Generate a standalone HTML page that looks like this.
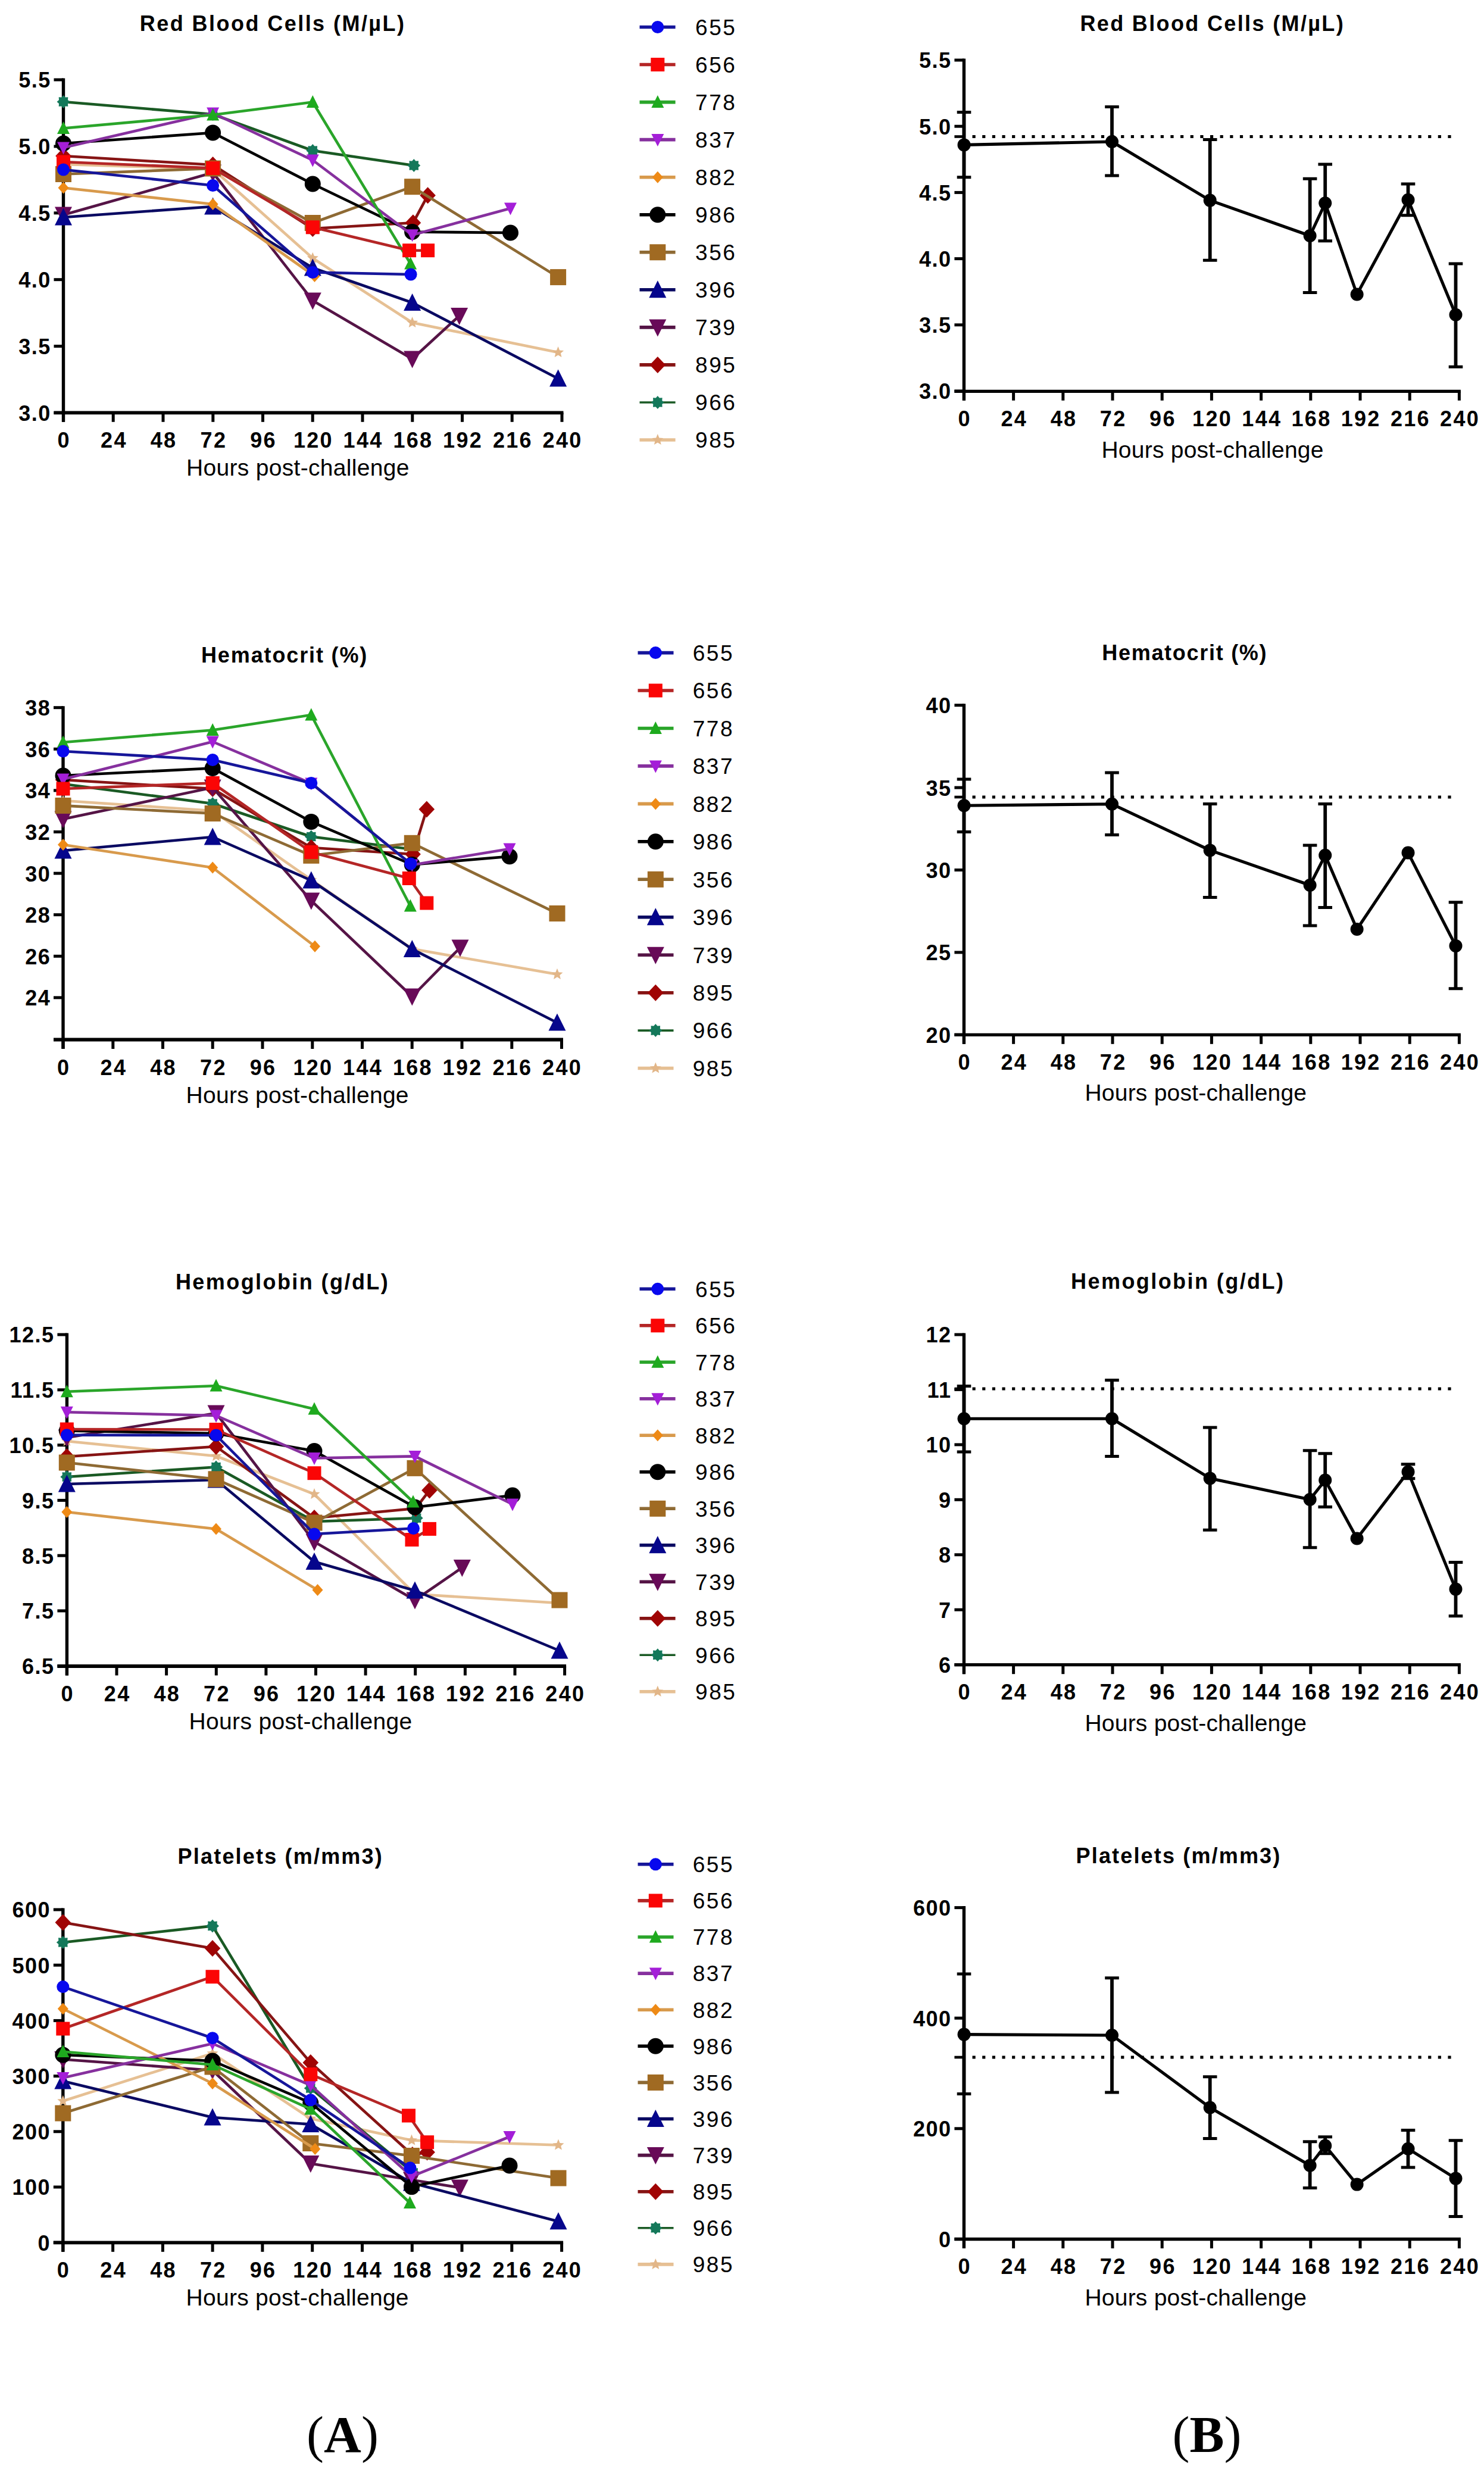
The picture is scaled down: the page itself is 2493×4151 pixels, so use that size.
<!DOCTYPE html>
<html lang="en"><head><meta charset="utf-8"><title>Hematology after challenge</title>
<style>html,body{margin:0;padding:0;background:#fff}svg{display:block}text{fill:#000}</style></head><body>
<svg width="2493" height="4151" viewBox="0 0 2493 4151">
<rect width="2493" height="4151" fill="#fff"/>
<g>
<text x="234.8" y="52" font-family='"Liberation Sans", sans-serif' font-size="36" font-weight="bold" text-anchor="start" letter-spacing="2.45">Red Blood Cells (M/µL)</text>
<line x1="106.5" y1="131.5" x2="106.5" y2="708.8" stroke="#000" stroke-width="5.4"/>
<line x1="90.5" y1="693.3" x2="946.5" y2="693.3" stroke="#000" stroke-width="5.800000000000001"/>
<line x1="106.5" y1="693.3" x2="106.5" y2="708.8" stroke="#000" stroke-width="5.0"/>
<text x="107.7" y="752.3" font-family='"Liberation Sans", sans-serif' font-size="36" font-weight="bold" text-anchor="middle" letter-spacing="2.3">0</text>
<line x1="190.2" y1="693.3" x2="190.2" y2="708.8" stroke="#000" stroke-width="5.0"/>
<text x="191.4" y="752.3" font-family='"Liberation Sans", sans-serif' font-size="36" font-weight="bold" text-anchor="middle" letter-spacing="2.3">24</text>
<line x1="274" y1="693.3" x2="274" y2="708.8" stroke="#000" stroke-width="5.0"/>
<text x="275.1" y="752.3" font-family='"Liberation Sans", sans-serif' font-size="36" font-weight="bold" text-anchor="middle" letter-spacing="2.3">48</text>
<line x1="357.8" y1="693.3" x2="357.8" y2="708.8" stroke="#000" stroke-width="5.0"/>
<text x="358.9" y="752.3" font-family='"Liberation Sans", sans-serif' font-size="36" font-weight="bold" text-anchor="middle" letter-spacing="2.3">72</text>
<line x1="441.5" y1="693.3" x2="441.5" y2="708.8" stroke="#000" stroke-width="5.0"/>
<text x="442.6" y="752.3" font-family='"Liberation Sans", sans-serif' font-size="36" font-weight="bold" text-anchor="middle" letter-spacing="2.3">96</text>
<line x1="525.2" y1="693.3" x2="525.2" y2="708.8" stroke="#000" stroke-width="5.0"/>
<text x="526.4" y="752.3" font-family='"Liberation Sans", sans-serif' font-size="36" font-weight="bold" text-anchor="middle" letter-spacing="2.3">120</text>
<line x1="609" y1="693.3" x2="609" y2="708.8" stroke="#000" stroke-width="5.0"/>
<text x="610.1" y="752.3" font-family='"Liberation Sans", sans-serif' font-size="36" font-weight="bold" text-anchor="middle" letter-spacing="2.3">144</text>
<line x1="692.8" y1="693.3" x2="692.8" y2="708.8" stroke="#000" stroke-width="5.0"/>
<text x="693.9" y="752.3" font-family='"Liberation Sans", sans-serif' font-size="36" font-weight="bold" text-anchor="middle" letter-spacing="2.3">168</text>
<line x1="776.5" y1="693.3" x2="776.5" y2="708.8" stroke="#000" stroke-width="5.0"/>
<text x="777.6" y="752.3" font-family='"Liberation Sans", sans-serif' font-size="36" font-weight="bold" text-anchor="middle" letter-spacing="2.3">192</text>
<line x1="860.2" y1="693.3" x2="860.2" y2="708.8" stroke="#000" stroke-width="5.0"/>
<text x="861.4" y="752.3" font-family='"Liberation Sans", sans-serif' font-size="36" font-weight="bold" text-anchor="middle" letter-spacing="2.3">216</text>
<line x1="944" y1="693.3" x2="944" y2="708.8" stroke="#000" stroke-width="5.0"/>
<text x="945.1" y="752.3" font-family='"Liberation Sans", sans-serif' font-size="36" font-weight="bold" text-anchor="middle" letter-spacing="2.3">240</text>
<line x1="90.5" y1="134" x2="106.5" y2="134" stroke="#000" stroke-width="5.0"/>
<text x="85.7" y="147.4" font-family='"Liberation Sans", sans-serif' font-size="36" font-weight="bold" text-anchor="end" letter-spacing="1.5">5.5</text>
<line x1="90.5" y1="245.9" x2="106.5" y2="245.9" stroke="#000" stroke-width="5.0"/>
<text x="85.7" y="259.3" font-family='"Liberation Sans", sans-serif' font-size="36" font-weight="bold" text-anchor="end" letter-spacing="1.5">5.0</text>
<line x1="90.5" y1="357.8" x2="106.5" y2="357.8" stroke="#000" stroke-width="5.0"/>
<text x="85.7" y="371.2" font-family='"Liberation Sans", sans-serif' font-size="36" font-weight="bold" text-anchor="end" letter-spacing="1.5">4.5</text>
<line x1="90.5" y1="469.7" x2="106.5" y2="469.7" stroke="#000" stroke-width="5.0"/>
<text x="85.7" y="483.1" font-family='"Liberation Sans", sans-serif' font-size="36" font-weight="bold" text-anchor="end" letter-spacing="1.5">4.0</text>
<line x1="90.5" y1="581.6" x2="106.5" y2="581.6" stroke="#000" stroke-width="5.0"/>
<text x="85.7" y="595" font-family='"Liberation Sans", sans-serif' font-size="36" font-weight="bold" text-anchor="end" letter-spacing="1.5">3.5</text>
<line x1="90.5" y1="693.5" x2="106.5" y2="693.5" stroke="#000" stroke-width="5.0"/>
<text x="85.7" y="706.9" font-family='"Liberation Sans", sans-serif' font-size="36" font-weight="bold" text-anchor="end" letter-spacing="1.5">3.0</text>
<polyline fill="none" stroke="#e6c094" stroke-width="4.6" stroke-linejoin="round" points="106.5,276 357.6,284 525.3,433.7 692.6,542 937.6,592"/>
<polygon points="106.5,266 109.1,272.4 116,272.9 110.8,277.4 112.4,284.1 106.5,280.5 100.6,284.1 102.2,277.4 97,272.9 103.9,272.4" fill="#e2b688"/>
<polygon points="357.6,274 360.2,280.4 367.1,280.9 361.9,285.4 363.5,292.1 357.6,288.5 351.7,292.1 353.3,285.4 348.1,280.9 355,280.4" fill="#e2b688"/>
<polygon points="525.3,423.7 527.9,430.1 534.8,430.6 529.6,435.1 531.2,441.8 525.3,438.2 519.4,441.8 521,435.1 515.8,430.6 522.7,430.1" fill="#e2b688"/>
<polygon points="692.6,532 695.2,538.4 702.1,538.9 696.9,543.4 698.5,550.1 692.6,546.5 686.7,550.1 688.3,543.4 683.1,538.9 690,538.4" fill="#e2b688"/>
<polygon points="937.6,582 940.2,588.4 947.1,588.9 941.9,593.4 943.5,600.1 937.6,596.5 931.7,600.1 933.3,593.4 928.1,588.9 935,588.4" fill="#e2b688"/>
<polyline fill="none" stroke="#1a5a24" stroke-width="4.6" stroke-linejoin="round" points="106.5,171 357.6,192 525.3,253 695.3,278"/>
<polygon points="106.5,160 109.6,163.5 114.3,163.2 114,167.9 117.5,171 114,174.1 114.3,178.8 109.6,178.5 106.5,182 103.4,178.5 98.7,178.8 99,174.1 95.5,171 99,167.9 98.7,163.2 103.4,163.5" fill="#14785a"/>
<polygon points="357.6,181 360.7,184.5 365.4,184.2 365.1,188.9 368.6,192 365.1,195.1 365.4,199.8 360.7,199.5 357.6,203 354.5,199.5 349.8,199.8 350.1,195.1 346.6,192 350.1,188.9 349.8,184.2 354.5,184.5" fill="#14785a"/>
<polygon points="525.3,242 528.4,245.5 533.1,245.2 532.8,249.9 536.3,253 532.8,256.1 533.1,260.8 528.4,260.5 525.3,264 522.2,260.5 517.5,260.8 517.8,256.1 514.3,253 517.8,249.9 517.5,245.2 522.2,245.5" fill="#14785a"/>
<polygon points="695.3,267 698.4,270.5 703.1,270.2 702.8,274.9 706.3,278 702.8,281.1 703.1,285.8 698.4,285.5 695.3,289 692.2,285.5 687.5,285.8 687.8,281.1 684.3,278 687.8,274.9 687.5,270.2 692.2,270.5" fill="#14785a"/>
<polyline fill="none" stroke="#861414" stroke-width="4.6" stroke-linejoin="round" points="106.5,262 357.6,277 525.3,384 693.9,374.3 718.6,328.3"/>
<polygon points="106.5,248 119.8,262 106.5,276 93.2,262" fill="#a00404"/>
<polygon points="357.6,263 370.9,277 357.6,291 344.3,277" fill="#a00404"/>
<polygon points="525.3,370 538.6,384 525.3,398 512,384" fill="#a00404"/>
<polygon points="693.9,360.3 707.2,374.3 693.9,388.3 680.6,374.3" fill="#a00404"/>
<polygon points="718.6,314.3 731.9,328.3 718.6,342.3 705.3,328.3" fill="#a00404"/>
<polyline fill="none" stroke="#551446" stroke-width="4.6" stroke-linejoin="round" points="106.5,361 357.6,290 525.3,505 692.6,603 771.6,530.5"/>
<polygon points="106.5,376.5 121,347.5 92,347.5" fill="#680a58"/>
<polygon points="357.6,305.5 372.1,276.5 343.1,276.5" fill="#680a58"/>
<polygon points="525.3,520.5 539.8,491.5 510.8,491.5" fill="#680a58"/>
<polygon points="692.6,618.5 707.1,589.5 678.1,589.5" fill="#680a58"/>
<polygon points="771.6,546 786.1,517 757.1,517" fill="#680a58"/>
<polyline fill="none" stroke="#0a0a62" stroke-width="4.6" stroke-linejoin="round" points="106.5,365 357.6,347 525.3,450 692.6,508.5 937.6,636"/>
<polygon points="106.5,349.5 121,378.5 92,378.5" fill="#06068c"/>
<polygon points="357.6,331.5 372.1,360.5 343.1,360.5" fill="#06068c"/>
<polygon points="525.3,434.5 539.8,463.5 510.8,463.5" fill="#06068c"/>
<polygon points="692.6,493 707.1,522 678.1,522" fill="#06068c"/>
<polygon points="937.6,620.5 952.1,649.5 923.1,649.5" fill="#06068c"/>
<polyline fill="none" stroke="#8e6a34" stroke-width="4.6" stroke-linejoin="round" points="106.5,292.5 357.6,283 525.3,374.5 692.6,313.7 937.6,465.6"/>
<rect x="93" y="279" width="27" height="27" fill="#a06a22"/>
<rect x="344.1" y="269.5" width="27" height="27" fill="#a06a22"/>
<rect x="511.8" y="361" width="27" height="27" fill="#a06a22"/>
<rect x="679.1" y="300.2" width="27" height="27" fill="#a06a22"/>
<rect x="924.1" y="452.1" width="27" height="27" fill="#a06a22"/>
<polyline fill="none" stroke="#000000" stroke-width="4.6" stroke-linejoin="round" points="106.5,241 357.6,223 525.3,309 692.6,389.5 857.5,391"/>
<circle cx="106.5" cy="241" r="13.5" fill="#000000"/>
<circle cx="357.6" cy="223" r="13.5" fill="#000000"/>
<circle cx="525.3" cy="309" r="13.5" fill="#000000"/>
<circle cx="692.6" cy="389.5" r="13.5" fill="#000000"/>
<circle cx="857.5" cy="391" r="13.5" fill="#000000"/>
<polyline fill="none" stroke="#d89a4c" stroke-width="4.6" stroke-linejoin="round" points="106.5,315.5 357.6,343 528.5,464"/>
<polygon points="106.5,305.5 115.5,315.5 106.5,325.5 97.5,315.5" fill="#ee8a16"/>
<polygon points="357.6,333 366.6,343 357.6,353 348.6,343" fill="#ee8a16"/>
<polygon points="528.5,454 537.5,464 528.5,474 519.5,464" fill="#ee8a16"/>
<polyline fill="none" stroke="#86309e" stroke-width="4.6" stroke-linejoin="round" points="106.5,248 357.6,190 525.3,269 692.6,394.8 857.5,350"/>
<polygon points="106.5,259.5 117,238.5 96,238.5" fill="#a41ed8"/>
<polygon points="357.6,201.5 368.1,180.5 347.1,180.5" fill="#a41ed8"/>
<polygon points="525.3,280.5 535.8,259.5 514.8,259.5" fill="#a41ed8"/>
<polygon points="692.6,406.3 703.1,385.3 682.1,385.3" fill="#a41ed8"/>
<polygon points="857.5,361.5 868,340.5 847,340.5" fill="#a41ed8"/>
<polyline fill="none" stroke="#2aa52a" stroke-width="4.6" stroke-linejoin="round" points="106.5,215.5 357.6,193 525.3,171.5 689.6,443"/>
<polygon points="106.5,204 117,225 96,225" fill="#1eaa1e"/>
<polygon points="357.6,181.5 368.1,202.5 347.1,202.5" fill="#1eaa1e"/>
<polygon points="525.3,160 535.8,181 514.8,181" fill="#1eaa1e"/>
<polygon points="689.6,431.5 700.1,452.5 679.1,452.5" fill="#1eaa1e"/>
<polyline fill="none" stroke="#b42626" stroke-width="4.6" stroke-linejoin="round" points="106.5,272 357.6,282.5 525.3,381.8 687.6,420.7 718.6,420.7"/>
<rect x="95" y="260.5" width="23" height="23" fill="#fb0505"/>
<rect x="346.1" y="271" width="23" height="23" fill="#fb0505"/>
<rect x="513.8" y="370.3" width="23" height="23" fill="#fb0505"/>
<rect x="676.1" y="409.2" width="23" height="23" fill="#fb0505"/>
<rect x="707.1" y="409.2" width="23" height="23" fill="#fb0505"/>
<polyline fill="none" stroke="#16169a" stroke-width="4.6" stroke-linejoin="round" points="106.5,285 357.6,311.5 525.3,457.5 690.1,461"/>
<circle cx="106.5" cy="285" r="10.5" fill="#0808ee"/>
<circle cx="357.6" cy="311.5" r="10.5" fill="#0808ee"/>
<circle cx="525.3" cy="457.5" r="10.5" fill="#0808ee"/>
<circle cx="690.1" cy="461" r="10.5" fill="#0808ee"/>
<text x="313" y="799" font-family='"Liberation Sans", sans-serif' font-size="39" font-weight="normal" text-anchor="start" letter-spacing="0.31">Hours post-challenge</text>
<line x1="1074.5" y1="45.5" x2="1134.6" y2="45.5" stroke="#16169a" stroke-width="5.6"/>
<circle cx="1104.8" cy="45.5" r="10.5" fill="#0808ee"/>
<text x="1168" y="58.8" font-family='"Liberation Sans", sans-serif' font-size="37" font-weight="normal" text-anchor="start" letter-spacing="2.6" fill="#111">655</text>
<line x1="1074.5" y1="108.5" x2="1134.6" y2="108.5" stroke="#b42626" stroke-width="5.6"/>
<rect x="1093.3" y="97" width="23" height="23" fill="#fb0505"/>
<text x="1168" y="121.8" font-family='"Liberation Sans", sans-serif' font-size="37" font-weight="normal" text-anchor="start" letter-spacing="2.6" fill="#111">656</text>
<line x1="1074.5" y1="171.6" x2="1134.6" y2="171.6" stroke="#2aa52a" stroke-width="5.6"/>
<polygon points="1104.8,160.1 1115.3,181.1 1094.3,181.1" fill="#1eaa1e"/>
<text x="1168" y="184.9" font-family='"Liberation Sans", sans-serif' font-size="37" font-weight="normal" text-anchor="start" letter-spacing="2.6" fill="#111">778</text>
<line x1="1074.5" y1="234.6" x2="1134.6" y2="234.6" stroke="#86309e" stroke-width="5.6"/>
<polygon points="1104.8,246.1 1115.3,225.1 1094.3,225.1" fill="#a41ed8"/>
<text x="1168" y="247.9" font-family='"Liberation Sans", sans-serif' font-size="37" font-weight="normal" text-anchor="start" letter-spacing="2.6" fill="#111">837</text>
<line x1="1074.5" y1="297.7" x2="1134.6" y2="297.7" stroke="#d89a4c" stroke-width="5.6"/>
<polygon points="1104.8,287.7 1113.8,297.7 1104.8,307.7 1095.8,297.7" fill="#ee8a16"/>
<text x="1168" y="311" font-family='"Liberation Sans", sans-serif' font-size="37" font-weight="normal" text-anchor="start" letter-spacing="2.6" fill="#111">882</text>
<line x1="1074.5" y1="360.8" x2="1134.6" y2="360.8" stroke="#000000" stroke-width="5.6"/>
<circle cx="1104.8" cy="360.8" r="13.5" fill="#000000"/>
<text x="1168" y="374.1" font-family='"Liberation Sans", sans-serif' font-size="37" font-weight="normal" text-anchor="start" letter-spacing="2.6" fill="#111">986</text>
<line x1="1074.5" y1="423.8" x2="1134.6" y2="423.8" stroke="#8e6a34" stroke-width="5.6"/>
<rect x="1091.3" y="410.3" width="27" height="27" fill="#a06a22"/>
<text x="1168" y="437.1" font-family='"Liberation Sans", sans-serif' font-size="37" font-weight="normal" text-anchor="start" letter-spacing="2.6" fill="#111">356</text>
<line x1="1074.5" y1="486.8" x2="1134.6" y2="486.8" stroke="#0a0a62" stroke-width="5.6"/>
<polygon points="1104.8,471.3 1119.3,500.3 1090.3,500.3" fill="#06068c"/>
<text x="1168" y="500.1" font-family='"Liberation Sans", sans-serif' font-size="37" font-weight="normal" text-anchor="start" letter-spacing="2.6" fill="#111">396</text>
<line x1="1074.5" y1="549.9" x2="1134.6" y2="549.9" stroke="#551446" stroke-width="5.6"/>
<polygon points="1104.8,565.4 1119.3,536.4 1090.3,536.4" fill="#680a58"/>
<text x="1168" y="563.2" font-family='"Liberation Sans", sans-serif' font-size="37" font-weight="normal" text-anchor="start" letter-spacing="2.6" fill="#111">739</text>
<line x1="1074.5" y1="612.9" x2="1134.6" y2="612.9" stroke="#861414" stroke-width="5.6"/>
<polygon points="1104.8,598.9 1118.1,612.9 1104.8,626.9 1091.5,612.9" fill="#a00404"/>
<text x="1168" y="626.2" font-family='"Liberation Sans", sans-serif' font-size="37" font-weight="normal" text-anchor="start" letter-spacing="2.6" fill="#111">895</text>
<line x1="1074.5" y1="676" x2="1134.6" y2="676" stroke="#1a5a24" stroke-width="3.6"/>
<polygon points="1104.8,665 1107.9,668.5 1112.6,668.2 1112.3,672.9 1115.8,676 1112.3,679.1 1112.6,683.8 1107.9,683.5 1104.8,687 1101.7,683.5 1097,683.8 1097.3,679.1 1093.8,676 1097.3,672.9 1097,668.2 1101.7,668.5" fill="#14785a"/>
<text x="1168" y="689.3" font-family='"Liberation Sans", sans-serif' font-size="37" font-weight="normal" text-anchor="start" letter-spacing="2.6" fill="#111">966</text>
<line x1="1074.5" y1="739" x2="1134.6" y2="739" stroke="#e6c094" stroke-width="5.6"/>
<polygon points="1104.8,729 1107.4,735.4 1114.3,736 1109.1,740.4 1110.7,747.1 1104.8,743.5 1098.9,747.1 1100.5,740.4 1095.3,736 1102.2,735.4" fill="#e2b688"/>
<text x="1168" y="752.3" font-family='"Liberation Sans", sans-serif' font-size="37" font-weight="normal" text-anchor="start" letter-spacing="2.6" fill="#111">985</text>
</g>
<g>
<text x="338" y="1112.5" font-family='"Liberation Sans", sans-serif' font-size="36" font-weight="bold" text-anchor="start" letter-spacing="1.87">Hematocrit (%)</text>
<line x1="106" y1="1186.2" x2="106" y2="1762" stroke="#000" stroke-width="5.4"/>
<line x1="90" y1="1746.5" x2="946" y2="1746.5" stroke="#000" stroke-width="5.800000000000001"/>
<line x1="106" y1="1746.5" x2="106" y2="1762" stroke="#000" stroke-width="5.0"/>
<text x="107.2" y="1805.5" font-family='"Liberation Sans", sans-serif' font-size="36" font-weight="bold" text-anchor="middle" letter-spacing="2.3">0</text>
<line x1="189.8" y1="1746.5" x2="189.8" y2="1762" stroke="#000" stroke-width="5.0"/>
<text x="190.9" y="1805.5" font-family='"Liberation Sans", sans-serif' font-size="36" font-weight="bold" text-anchor="middle" letter-spacing="2.3">24</text>
<line x1="273.5" y1="1746.5" x2="273.5" y2="1762" stroke="#000" stroke-width="5.0"/>
<text x="274.6" y="1805.5" font-family='"Liberation Sans", sans-serif' font-size="36" font-weight="bold" text-anchor="middle" letter-spacing="2.3">48</text>
<line x1="357.2" y1="1746.5" x2="357.2" y2="1762" stroke="#000" stroke-width="5.0"/>
<text x="358.4" y="1805.5" font-family='"Liberation Sans", sans-serif' font-size="36" font-weight="bold" text-anchor="middle" letter-spacing="2.3">72</text>
<line x1="441" y1="1746.5" x2="441" y2="1762" stroke="#000" stroke-width="5.0"/>
<text x="442.1" y="1805.5" font-family='"Liberation Sans", sans-serif' font-size="36" font-weight="bold" text-anchor="middle" letter-spacing="2.3">96</text>
<line x1="524.8" y1="1746.5" x2="524.8" y2="1762" stroke="#000" stroke-width="5.0"/>
<text x="525.9" y="1805.5" font-family='"Liberation Sans", sans-serif' font-size="36" font-weight="bold" text-anchor="middle" letter-spacing="2.3">120</text>
<line x1="608.5" y1="1746.5" x2="608.5" y2="1762" stroke="#000" stroke-width="5.0"/>
<text x="609.6" y="1805.5" font-family='"Liberation Sans", sans-serif' font-size="36" font-weight="bold" text-anchor="middle" letter-spacing="2.3">144</text>
<line x1="692.2" y1="1746.5" x2="692.2" y2="1762" stroke="#000" stroke-width="5.0"/>
<text x="693.4" y="1805.5" font-family='"Liberation Sans", sans-serif' font-size="36" font-weight="bold" text-anchor="middle" letter-spacing="2.3">168</text>
<line x1="776" y1="1746.5" x2="776" y2="1762" stroke="#000" stroke-width="5.0"/>
<text x="777.1" y="1805.5" font-family='"Liberation Sans", sans-serif' font-size="36" font-weight="bold" text-anchor="middle" letter-spacing="2.3">192</text>
<line x1="859.8" y1="1746.5" x2="859.8" y2="1762" stroke="#000" stroke-width="5.0"/>
<text x="860.9" y="1805.5" font-family='"Liberation Sans", sans-serif' font-size="36" font-weight="bold" text-anchor="middle" letter-spacing="2.3">216</text>
<line x1="943.5" y1="1746.5" x2="943.5" y2="1762" stroke="#000" stroke-width="5.0"/>
<text x="944.6" y="1805.5" font-family='"Liberation Sans", sans-serif' font-size="36" font-weight="bold" text-anchor="middle" letter-spacing="2.3">240</text>
<line x1="90" y1="1188.7" x2="106" y2="1188.7" stroke="#000" stroke-width="5.0"/>
<text x="85.2" y="1202.1" font-family='"Liberation Sans", sans-serif' font-size="36" font-weight="bold" text-anchor="end" letter-spacing="1.5">38</text>
<line x1="90" y1="1258.3" x2="106" y2="1258.3" stroke="#000" stroke-width="5.0"/>
<text x="85.2" y="1271.7" font-family='"Liberation Sans", sans-serif' font-size="36" font-weight="bold" text-anchor="end" letter-spacing="1.5">36</text>
<line x1="90" y1="1327.9" x2="106" y2="1327.9" stroke="#000" stroke-width="5.0"/>
<text x="85.2" y="1341.3" font-family='"Liberation Sans", sans-serif' font-size="36" font-weight="bold" text-anchor="end" letter-spacing="1.5">34</text>
<line x1="90" y1="1397.5" x2="106" y2="1397.5" stroke="#000" stroke-width="5.0"/>
<text x="85.2" y="1410.9" font-family='"Liberation Sans", sans-serif' font-size="36" font-weight="bold" text-anchor="end" letter-spacing="1.5">32</text>
<line x1="90" y1="1467.1" x2="106" y2="1467.1" stroke="#000" stroke-width="5.0"/>
<text x="85.2" y="1480.5" font-family='"Liberation Sans", sans-serif' font-size="36" font-weight="bold" text-anchor="end" letter-spacing="1.5">30</text>
<line x1="90" y1="1536.7" x2="106" y2="1536.7" stroke="#000" stroke-width="5.0"/>
<text x="85.2" y="1550.1" font-family='"Liberation Sans", sans-serif' font-size="36" font-weight="bold" text-anchor="end" letter-spacing="1.5">28</text>
<line x1="90" y1="1606.3" x2="106" y2="1606.3" stroke="#000" stroke-width="5.0"/>
<text x="85.2" y="1619.7" font-family='"Liberation Sans", sans-serif' font-size="36" font-weight="bold" text-anchor="end" letter-spacing="1.5">26</text>
<line x1="90" y1="1675.9" x2="106" y2="1675.9" stroke="#000" stroke-width="5.0"/>
<text x="85.2" y="1689.3" font-family='"Liberation Sans", sans-serif' font-size="36" font-weight="bold" text-anchor="end" letter-spacing="1.5">24</text>
<polyline fill="none" stroke="#e6c094" stroke-width="4.6" stroke-linejoin="round" points="106,1345 357.2,1362 522.8,1478 692.3,1594 936,1636.8"/>
<polygon points="106,1335 108.6,1341.4 115.5,1341.9 110.3,1346.4 111.9,1353.1 106,1349.5 100.1,1353.1 101.7,1346.4 96.5,1341.9 103.4,1341.4" fill="#e2b688"/>
<polygon points="357.2,1352 359.8,1358.4 366.7,1358.9 361.5,1363.4 363.1,1370.1 357.2,1366.5 351.3,1370.1 352.9,1363.4 347.7,1358.9 354.6,1358.4" fill="#e2b688"/>
<polygon points="522.8,1468 525.4,1474.4 532.3,1474.9 527.1,1479.4 528.7,1486.1 522.8,1482.5 516.9,1486.1 518.5,1479.4 513.3,1474.9 520.2,1474.4" fill="#e2b688"/>
<polygon points="692.3,1584 694.9,1590.4 701.8,1590.9 696.6,1595.4 698.2,1602.1 692.3,1598.5 686.4,1602.1 688,1595.4 682.8,1590.9 689.7,1590.4" fill="#e2b688"/>
<polygon points="936,1626.8 938.6,1633.2 945.5,1633.7 940.3,1638.2 941.9,1644.9 936,1641.3 930.1,1644.9 931.7,1638.2 926.5,1633.7 933.4,1633.2" fill="#e2b688"/>
<polyline fill="none" stroke="#1a5a24" stroke-width="4.6" stroke-linejoin="round" points="106,1317 357.2,1350 522.8,1405.5 695,1427"/>
<polygon points="106,1306 109.1,1309.5 113.8,1309.2 113.5,1313.9 117,1317 113.5,1320.1 113.8,1324.8 109.1,1324.5 106,1328 102.9,1324.5 98.2,1324.8 98.5,1320.1 95,1317 98.5,1313.9 98.2,1309.2 102.9,1309.5" fill="#14785a"/>
<polygon points="357.2,1339 360.3,1342.5 365,1342.2 364.7,1346.9 368.2,1350 364.7,1353.1 365,1357.8 360.3,1357.5 357.2,1361 354.1,1357.5 349.4,1357.8 349.7,1353.1 346.2,1350 349.7,1346.9 349.4,1342.2 354.1,1342.5" fill="#14785a"/>
<polygon points="522.8,1394.5 525.9,1398 530.6,1397.7 530.3,1402.4 533.8,1405.5 530.3,1408.6 530.6,1413.3 525.9,1413 522.8,1416.5 519.7,1413 515,1413.3 515.3,1408.6 511.8,1405.5 515.3,1402.4 515,1397.7 519.7,1398" fill="#14785a"/>
<polygon points="695,1416 698.1,1419.5 702.8,1419.2 702.5,1423.9 706,1427 702.5,1430.1 702.8,1434.8 698.1,1434.5 695,1438 691.9,1434.5 687.2,1434.8 687.5,1430.1 684,1427 687.5,1423.9 687.2,1419.2 691.9,1419.5" fill="#14785a"/>
<polyline fill="none" stroke="#861414" stroke-width="4.6" stroke-linejoin="round" points="106,1310 357.2,1325 522.8,1424 693.6,1435 716.8,1359.6"/>
<polygon points="106,1296 119.3,1310 106,1324 92.7,1310" fill="#a00404"/>
<polygon points="357.2,1311 370.5,1325 357.2,1339 343.9,1325" fill="#a00404"/>
<polygon points="522.8,1410 536.1,1424 522.8,1438 509.5,1424" fill="#a00404"/>
<polygon points="693.6,1421 706.9,1435 693.6,1449 680.3,1435" fill="#a00404"/>
<polygon points="716.8,1345.6 730.1,1359.6 716.8,1373.6 703.5,1359.6" fill="#a00404"/>
<polyline fill="none" stroke="#551446" stroke-width="4.6" stroke-linejoin="round" points="106,1376 357.2,1323 522.8,1513 692.3,1674 773,1592"/>
<polygon points="106,1391.5 120.5,1362.5 91.5,1362.5" fill="#680a58"/>
<polygon points="357.2,1338.5 371.7,1309.5 342.7,1309.5" fill="#680a58"/>
<polygon points="522.8,1528.5 537.3,1499.5 508.3,1499.5" fill="#680a58"/>
<polygon points="692.3,1689.5 706.8,1660.5 677.8,1660.5" fill="#680a58"/>
<polygon points="773,1607.5 787.5,1578.5 758.5,1578.5" fill="#680a58"/>
<polyline fill="none" stroke="#0a0a62" stroke-width="4.6" stroke-linejoin="round" points="106,1429 357.2,1406 522.8,1479 692.3,1594.4 936,1718"/>
<polygon points="106,1413.5 120.5,1442.5 91.5,1442.5" fill="#06068c"/>
<polygon points="357.2,1390.5 371.7,1419.5 342.7,1419.5" fill="#06068c"/>
<polygon points="522.8,1463.5 537.3,1492.5 508.3,1492.5" fill="#06068c"/>
<polygon points="692.3,1578.9 706.8,1607.9 677.8,1607.9" fill="#06068c"/>
<polygon points="936,1702.5 950.5,1731.5 921.5,1731.5" fill="#06068c"/>
<polyline fill="none" stroke="#8e6a34" stroke-width="4.6" stroke-linejoin="round" points="106,1353.4 357.2,1366.5 522.8,1437.3 692.3,1416.3 936,1534.5"/>
<rect x="92.5" y="1339.9" width="27" height="27" fill="#a06a22"/>
<rect x="343.7" y="1353" width="27" height="27" fill="#a06a22"/>
<rect x="509.3" y="1423.8" width="27" height="27" fill="#a06a22"/>
<rect x="678.8" y="1402.8" width="27" height="27" fill="#a06a22"/>
<rect x="922.5" y="1521" width="27" height="27" fill="#a06a22"/>
<polyline fill="none" stroke="#000000" stroke-width="4.6" stroke-linejoin="round" points="106,1303 357.2,1290.5 522.8,1380.4 692.3,1452.5 856,1438.8"/>
<circle cx="106" cy="1303" r="13.5" fill="#000000"/>
<circle cx="357.2" cy="1290.5" r="13.5" fill="#000000"/>
<circle cx="522.8" cy="1380.4" r="13.5" fill="#000000"/>
<circle cx="692.3" cy="1452.5" r="13.5" fill="#000000"/>
<circle cx="856" cy="1438.8" r="13.5" fill="#000000"/>
<polyline fill="none" stroke="#d89a4c" stroke-width="4.6" stroke-linejoin="round" points="106,1419 357.2,1457.5 529,1589.8"/>
<polygon points="106,1409 115,1419 106,1429 97,1419" fill="#ee8a16"/>
<polygon points="357.2,1447.5 366.2,1457.5 357.2,1467.5 348.2,1457.5" fill="#ee8a16"/>
<polygon points="529,1579.8 538,1589.8 529,1599.8 520,1589.8" fill="#ee8a16"/>
<polyline fill="none" stroke="#86309e" stroke-width="4.6" stroke-linejoin="round" points="106,1309 357.2,1246 522.8,1316 692.3,1453 856,1426"/>
<polygon points="106,1320.5 116.5,1299.5 95.5,1299.5" fill="#a41ed8"/>
<polygon points="357.2,1257.5 367.7,1236.5 346.7,1236.5" fill="#a41ed8"/>
<polygon points="522.8,1327.5 533.3,1306.5 512.3,1306.5" fill="#a41ed8"/>
<polygon points="692.3,1464.5 702.8,1443.5 681.8,1443.5" fill="#a41ed8"/>
<polygon points="856,1437.5 866.5,1416.5 845.5,1416.5" fill="#a41ed8"/>
<polyline fill="none" stroke="#2aa52a" stroke-width="4.6" stroke-linejoin="round" points="106,1247 357.2,1226.5 522.8,1201 689.3,1522"/>
<polygon points="106,1235.5 116.5,1256.5 95.5,1256.5" fill="#1eaa1e"/>
<polygon points="357.2,1215 367.7,1236 346.7,1236" fill="#1eaa1e"/>
<polygon points="522.8,1189.5 533.3,1210.5 512.3,1210.5" fill="#1eaa1e"/>
<polygon points="689.3,1510.5 699.8,1531.5 678.8,1531.5" fill="#1eaa1e"/>
<polyline fill="none" stroke="#b42626" stroke-width="4.6" stroke-linejoin="round" points="106,1325 357.2,1315.5 522.8,1431.5 687.3,1475.5 716.8,1517"/>
<rect x="94.5" y="1313.5" width="23" height="23" fill="#fb0505"/>
<rect x="345.7" y="1304" width="23" height="23" fill="#fb0505"/>
<rect x="511.3" y="1420" width="23" height="23" fill="#fb0505"/>
<rect x="675.8" y="1464" width="23" height="23" fill="#fb0505"/>
<rect x="705.3" y="1505.5" width="23" height="23" fill="#fb0505"/>
<polyline fill="none" stroke="#16169a" stroke-width="4.6" stroke-linejoin="round" points="106,1262 357.2,1276.5 522.8,1315.5 689.8,1451"/>
<circle cx="106" cy="1262" r="10.5" fill="#0808ee"/>
<circle cx="357.2" cy="1276.5" r="10.5" fill="#0808ee"/>
<circle cx="522.8" cy="1315.5" r="10.5" fill="#0808ee"/>
<circle cx="689.8" cy="1451" r="10.5" fill="#0808ee"/>
<text x="312.5" y="1852.5" font-family='"Liberation Sans", sans-serif' font-size="39" font-weight="normal" text-anchor="start" letter-spacing="0.29">Hours post-challenge</text>
<line x1="1071.5" y1="1096.6" x2="1131.5" y2="1096.6" stroke="#16169a" stroke-width="5.6"/>
<circle cx="1101.3" cy="1096.6" r="10.5" fill="#0808ee"/>
<text x="1163.7" y="1109.9" font-family='"Liberation Sans", sans-serif' font-size="37" font-weight="normal" text-anchor="start" letter-spacing="2.6" fill="#111">655</text>
<line x1="1071.5" y1="1160" x2="1131.5" y2="1160" stroke="#b42626" stroke-width="5.6"/>
<rect x="1089.8" y="1148.5" width="23" height="23" fill="#fb0505"/>
<text x="1163.7" y="1173.3" font-family='"Liberation Sans", sans-serif' font-size="37" font-weight="normal" text-anchor="start" letter-spacing="2.6" fill="#111">656</text>
<line x1="1071.5" y1="1223.5" x2="1131.5" y2="1223.5" stroke="#2aa52a" stroke-width="5.6"/>
<polygon points="1101.3,1212 1111.8,1233 1090.8,1233" fill="#1eaa1e"/>
<text x="1163.7" y="1236.8" font-family='"Liberation Sans", sans-serif' font-size="37" font-weight="normal" text-anchor="start" letter-spacing="2.6" fill="#111">778</text>
<line x1="1071.5" y1="1286.9" x2="1131.5" y2="1286.9" stroke="#86309e" stroke-width="5.6"/>
<polygon points="1101.3,1298.4 1111.8,1277.4 1090.8,1277.4" fill="#a41ed8"/>
<text x="1163.7" y="1300.2" font-family='"Liberation Sans", sans-serif' font-size="37" font-weight="normal" text-anchor="start" letter-spacing="2.6" fill="#111">837</text>
<line x1="1071.5" y1="1350.4" x2="1131.5" y2="1350.4" stroke="#d89a4c" stroke-width="5.6"/>
<polygon points="1101.3,1340.4 1110.3,1350.4 1101.3,1360.4 1092.3,1350.4" fill="#ee8a16"/>
<text x="1163.7" y="1363.7" font-family='"Liberation Sans", sans-serif' font-size="37" font-weight="normal" text-anchor="start" letter-spacing="2.6" fill="#111">882</text>
<line x1="1071.5" y1="1413.8" x2="1131.5" y2="1413.8" stroke="#000000" stroke-width="5.6"/>
<circle cx="1101.3" cy="1413.8" r="13.5" fill="#000000"/>
<text x="1163.7" y="1427.1" font-family='"Liberation Sans", sans-serif' font-size="37" font-weight="normal" text-anchor="start" letter-spacing="2.6" fill="#111">986</text>
<line x1="1071.5" y1="1477.3" x2="1131.5" y2="1477.3" stroke="#8e6a34" stroke-width="5.6"/>
<rect x="1087.8" y="1463.8" width="27" height="27" fill="#a06a22"/>
<text x="1163.7" y="1490.6" font-family='"Liberation Sans", sans-serif' font-size="37" font-weight="normal" text-anchor="start" letter-spacing="2.6" fill="#111">356</text>
<line x1="1071.5" y1="1540.8" x2="1131.5" y2="1540.8" stroke="#0a0a62" stroke-width="5.6"/>
<polygon points="1101.3,1525.2 1115.8,1554.2 1086.8,1554.2" fill="#06068c"/>
<text x="1163.7" y="1554" font-family='"Liberation Sans", sans-serif' font-size="37" font-weight="normal" text-anchor="start" letter-spacing="2.6" fill="#111">396</text>
<line x1="1071.5" y1="1604.2" x2="1131.5" y2="1604.2" stroke="#551446" stroke-width="5.6"/>
<polygon points="1101.3,1619.7 1115.8,1590.7 1086.8,1590.7" fill="#680a58"/>
<text x="1163.7" y="1617.5" font-family='"Liberation Sans", sans-serif' font-size="37" font-weight="normal" text-anchor="start" letter-spacing="2.6" fill="#111">739</text>
<line x1="1071.5" y1="1667.7" x2="1131.5" y2="1667.7" stroke="#861414" stroke-width="5.6"/>
<polygon points="1101.3,1653.7 1114.6,1667.7 1101.3,1681.7 1088,1667.7" fill="#a00404"/>
<text x="1163.7" y="1681" font-family='"Liberation Sans", sans-serif' font-size="37" font-weight="normal" text-anchor="start" letter-spacing="2.6" fill="#111">895</text>
<line x1="1071.5" y1="1731.1" x2="1131.5" y2="1731.1" stroke="#1a5a24" stroke-width="3.6"/>
<polygon points="1101.3,1720.1 1104.4,1723.6 1109.1,1723.3 1108.8,1728 1112.3,1731.1 1108.8,1734.2 1109.1,1738.9 1104.4,1738.6 1101.3,1742.1 1098.2,1738.6 1093.5,1738.9 1093.8,1734.2 1090.3,1731.1 1093.8,1728 1093.5,1723.3 1098.2,1723.6" fill="#14785a"/>
<text x="1163.7" y="1744.4" font-family='"Liberation Sans", sans-serif' font-size="37" font-weight="normal" text-anchor="start" letter-spacing="2.6" fill="#111">966</text>
<line x1="1071.5" y1="1794.5" x2="1131.5" y2="1794.5" stroke="#e6c094" stroke-width="5.6"/>
<polygon points="1101.3,1784.5 1103.9,1790.9 1110.8,1791.5 1105.6,1795.9 1107.2,1802.6 1101.3,1799 1095.4,1802.6 1097,1795.9 1091.8,1791.5 1098.7,1790.9" fill="#e2b688"/>
<text x="1163.7" y="1807.8" font-family='"Liberation Sans", sans-serif' font-size="37" font-weight="normal" text-anchor="start" letter-spacing="2.6" fill="#111">985</text>
</g>
<g>
<text x="294.9" y="2166" font-family='"Liberation Sans", sans-serif' font-size="36" font-weight="bold" text-anchor="start" letter-spacing="2.43">Hemoglobin (g/dL)</text>
<line x1="112.4" y1="2239.5" x2="112.4" y2="2814.5" stroke="#000" stroke-width="5.4"/>
<line x1="96.4" y1="2799" x2="951.1" y2="2799" stroke="#000" stroke-width="5.800000000000001"/>
<line x1="112.4" y1="2799" x2="112.4" y2="2814.5" stroke="#000" stroke-width="5.0"/>
<text x="113.6" y="2858" font-family='"Liberation Sans", sans-serif' font-size="36" font-weight="bold" text-anchor="middle" letter-spacing="2.3">0</text>
<line x1="196" y1="2799" x2="196" y2="2814.5" stroke="#000" stroke-width="5.0"/>
<text x="197.2" y="2858" font-family='"Liberation Sans", sans-serif' font-size="36" font-weight="bold" text-anchor="middle" letter-spacing="2.3">24</text>
<line x1="279.6" y1="2799" x2="279.6" y2="2814.5" stroke="#000" stroke-width="5.0"/>
<text x="280.8" y="2858" font-family='"Liberation Sans", sans-serif' font-size="36" font-weight="bold" text-anchor="middle" letter-spacing="2.3">48</text>
<line x1="363.3" y1="2799" x2="363.3" y2="2814.5" stroke="#000" stroke-width="5.0"/>
<text x="364.4" y="2858" font-family='"Liberation Sans", sans-serif' font-size="36" font-weight="bold" text-anchor="middle" letter-spacing="2.3">72</text>
<line x1="446.9" y1="2799" x2="446.9" y2="2814.5" stroke="#000" stroke-width="5.0"/>
<text x="448" y="2858" font-family='"Liberation Sans", sans-serif' font-size="36" font-weight="bold" text-anchor="middle" letter-spacing="2.3">96</text>
<line x1="530.5" y1="2799" x2="530.5" y2="2814.5" stroke="#000" stroke-width="5.0"/>
<text x="531.6" y="2858" font-family='"Liberation Sans", sans-serif' font-size="36" font-weight="bold" text-anchor="middle" letter-spacing="2.3">120</text>
<line x1="614.1" y1="2799" x2="614.1" y2="2814.5" stroke="#000" stroke-width="5.0"/>
<text x="615.3" y="2858" font-family='"Liberation Sans", sans-serif' font-size="36" font-weight="bold" text-anchor="middle" letter-spacing="2.3">144</text>
<line x1="697.7" y1="2799" x2="697.7" y2="2814.5" stroke="#000" stroke-width="5.0"/>
<text x="698.9" y="2858" font-family='"Liberation Sans", sans-serif' font-size="36" font-weight="bold" text-anchor="middle" letter-spacing="2.3">168</text>
<line x1="781.4" y1="2799" x2="781.4" y2="2814.5" stroke="#000" stroke-width="5.0"/>
<text x="782.5" y="2858" font-family='"Liberation Sans", sans-serif' font-size="36" font-weight="bold" text-anchor="middle" letter-spacing="2.3">192</text>
<line x1="865" y1="2799" x2="865" y2="2814.5" stroke="#000" stroke-width="5.0"/>
<text x="866.1" y="2858" font-family='"Liberation Sans", sans-serif' font-size="36" font-weight="bold" text-anchor="middle" letter-spacing="2.3">216</text>
<line x1="948.6" y1="2799" x2="948.6" y2="2814.5" stroke="#000" stroke-width="5.0"/>
<text x="949.8" y="2858" font-family='"Liberation Sans", sans-serif' font-size="36" font-weight="bold" text-anchor="middle" letter-spacing="2.3">240</text>
<line x1="96.4" y1="2242" x2="112.4" y2="2242" stroke="#000" stroke-width="5.0"/>
<text x="91.6" y="2255.4" font-family='"Liberation Sans", sans-serif' font-size="36" font-weight="bold" text-anchor="end" letter-spacing="1.5">12.5</text>
<line x1="96.4" y1="2334.8" x2="112.4" y2="2334.8" stroke="#000" stroke-width="5.0"/>
<text x="91.6" y="2348.2" font-family='"Liberation Sans", sans-serif' font-size="36" font-weight="bold" text-anchor="end" letter-spacing="1.5">11.5</text>
<line x1="96.4" y1="2427.6" x2="112.4" y2="2427.6" stroke="#000" stroke-width="5.0"/>
<text x="91.6" y="2441" font-family='"Liberation Sans", sans-serif' font-size="36" font-weight="bold" text-anchor="end" letter-spacing="1.5">10.5</text>
<line x1="96.4" y1="2520.4" x2="112.4" y2="2520.4" stroke="#000" stroke-width="5.0"/>
<text x="91.6" y="2533.8" font-family='"Liberation Sans", sans-serif' font-size="36" font-weight="bold" text-anchor="end" letter-spacing="1.5">9.5</text>
<line x1="96.4" y1="2613.2" x2="112.4" y2="2613.2" stroke="#000" stroke-width="5.0"/>
<text x="91.6" y="2626.6" font-family='"Liberation Sans", sans-serif' font-size="36" font-weight="bold" text-anchor="end" letter-spacing="1.5">8.5</text>
<line x1="96.4" y1="2706" x2="112.4" y2="2706" stroke="#000" stroke-width="5.0"/>
<text x="91.6" y="2719.4" font-family='"Liberation Sans", sans-serif' font-size="36" font-weight="bold" text-anchor="end" letter-spacing="1.5">7.5</text>
<line x1="96.4" y1="2798.8" x2="112.4" y2="2798.8" stroke="#000" stroke-width="5.0"/>
<text x="91.6" y="2812.2" font-family='"Liberation Sans", sans-serif' font-size="36" font-weight="bold" text-anchor="end" letter-spacing="1.5">6.5</text>
<polyline fill="none" stroke="#e6c094" stroke-width="4.6" stroke-linejoin="round" points="112.3,2421 363,2446 528,2510 697,2678 940,2693"/>
<polygon points="112.3,2411 114.9,2417.4 121.8,2417.9 116.6,2422.4 118.2,2429.1 112.3,2425.5 106.4,2429.1 108,2422.4 102.8,2417.9 109.7,2417.4" fill="#e2b688"/>
<polygon points="363,2436 365.6,2442.4 372.5,2442.9 367.3,2447.4 368.9,2454.1 363,2450.5 357.1,2454.1 358.7,2447.4 353.5,2442.9 360.4,2442.4" fill="#e2b688"/>
<polygon points="528,2500 530.6,2506.4 537.5,2506.9 532.3,2511.4 533.9,2518.1 528,2514.5 522.1,2518.1 523.7,2511.4 518.5,2506.9 525.4,2506.4" fill="#e2b688"/>
<polygon points="697,2668 699.6,2674.4 706.5,2674.9 701.3,2679.4 702.9,2686.1 697,2682.5 691.1,2686.1 692.7,2679.4 687.5,2674.9 694.4,2674.4" fill="#e2b688"/>
<polygon points="940,2683 942.6,2689.4 949.5,2689.9 944.3,2694.4 945.9,2701.1 940,2697.5 934.1,2701.1 935.7,2694.4 930.5,2689.9 937.4,2689.4" fill="#e2b688"/>
<polyline fill="none" stroke="#1a5a24" stroke-width="4.6" stroke-linejoin="round" points="112.3,2481 363,2464.5 528,2556 699.7,2550.2"/>
<polygon points="112.3,2470 115.4,2473.5 120.1,2473.2 119.8,2477.9 123.3,2481 119.8,2484.1 120.1,2488.8 115.4,2488.5 112.3,2492 109.2,2488.5 104.5,2488.8 104.8,2484.1 101.3,2481 104.8,2477.9 104.5,2473.2 109.2,2473.5" fill="#14785a"/>
<polygon points="363,2453.5 366.1,2457 370.8,2456.7 370.5,2461.4 374,2464.5 370.5,2467.6 370.8,2472.3 366.1,2472 363,2475.5 359.9,2472 355.2,2472.3 355.5,2467.6 352,2464.5 355.5,2461.4 355.2,2456.7 359.9,2457" fill="#14785a"/>
<polygon points="528,2545 531.1,2548.5 535.8,2548.2 535.5,2552.9 539,2556 535.5,2559.1 535.8,2563.8 531.1,2563.5 528,2567 524.9,2563.5 520.2,2563.8 520.5,2559.1 517,2556 520.5,2552.9 520.2,2548.2 524.9,2548.5" fill="#14785a"/>
<polygon points="699.7,2539.2 702.8,2542.7 707.5,2542.4 707.2,2547.1 710.7,2550.2 707.2,2553.3 707.5,2558 702.8,2557.7 699.7,2561.2 696.6,2557.7 691.9,2558 692.2,2553.3 688.7,2550.2 692.2,2547.1 691.9,2542.4 696.6,2542.7" fill="#14785a"/>
<polyline fill="none" stroke="#861414" stroke-width="4.6" stroke-linejoin="round" points="112.3,2447 363,2430 528,2550 698.3,2534 721.5,2503.6"/>
<polygon points="112.3,2433 125.6,2447 112.3,2461 99,2447" fill="#a00404"/>
<polygon points="363,2416 376.3,2430 363,2444 349.7,2430" fill="#a00404"/>
<polygon points="528,2536 541.3,2550 528,2564 514.7,2550" fill="#a00404"/>
<polygon points="698.3,2520 711.6,2534 698.3,2548 685,2534" fill="#a00404"/>
<polygon points="721.5,2489.6 734.8,2503.6 721.5,2517.6 708.2,2503.6" fill="#a00404"/>
<polyline fill="none" stroke="#551446" stroke-width="4.6" stroke-linejoin="round" points="112.3,2415 363,2374 528,2590 697,2688 776.3,2633.5"/>
<polygon points="112.3,2430.5 126.8,2401.5 97.8,2401.5" fill="#680a58"/>
<polygon points="363,2389.5 377.5,2360.5 348.5,2360.5" fill="#680a58"/>
<polygon points="528,2605.5 542.5,2576.5 513.5,2576.5" fill="#680a58"/>
<polygon points="697,2703.5 711.5,2674.5 682.5,2674.5" fill="#680a58"/>
<polygon points="776.3,2649 790.8,2620 761.8,2620" fill="#680a58"/>
<polyline fill="none" stroke="#0a0a62" stroke-width="4.6" stroke-linejoin="round" points="112.3,2493 363,2486 528,2623.5 697,2672 940,2773"/>
<polygon points="112.3,2477.5 126.8,2506.5 97.8,2506.5" fill="#06068c"/>
<polygon points="363,2470.5 377.5,2499.5 348.5,2499.5" fill="#06068c"/>
<polygon points="528,2608 542.5,2637 513.5,2637" fill="#06068c"/>
<polygon points="697,2656.5 711.5,2685.5 682.5,2685.5" fill="#06068c"/>
<polygon points="940,2757.5 954.5,2786.5 925.5,2786.5" fill="#06068c"/>
<polyline fill="none" stroke="#8e6a34" stroke-width="4.6" stroke-linejoin="round" points="112.3,2457 363,2484.8 528,2558 697,2466.4 940,2688"/>
<rect x="98.8" y="2443.5" width="27" height="27" fill="#a06a22"/>
<rect x="349.5" y="2471.3" width="27" height="27" fill="#a06a22"/>
<rect x="514.5" y="2544.5" width="27" height="27" fill="#a06a22"/>
<rect x="683.5" y="2452.9" width="27" height="27" fill="#a06a22"/>
<rect x="926.5" y="2674.5" width="27" height="27" fill="#a06a22"/>
<polyline fill="none" stroke="#000000" stroke-width="4.6" stroke-linejoin="round" points="112.3,2403.5 363,2408 528,2437.5 697,2532 861,2512"/>
<circle cx="112.3" cy="2403.5" r="13.5" fill="#000000"/>
<circle cx="363" cy="2408" r="13.5" fill="#000000"/>
<circle cx="528" cy="2437.5" r="13.5" fill="#000000"/>
<circle cx="697" cy="2532" r="13.5" fill="#000000"/>
<circle cx="861" cy="2512" r="13.5" fill="#000000"/>
<polyline fill="none" stroke="#d89a4c" stroke-width="4.6" stroke-linejoin="round" points="112.3,2540 363,2568.5 533.5,2671"/>
<polygon points="112.3,2530 121.3,2540 112.3,2550 103.3,2540" fill="#ee8a16"/>
<polygon points="363,2558.5 372,2568.5 363,2578.5 354,2568.5" fill="#ee8a16"/>
<polygon points="533.5,2661 542.5,2671 533.5,2681 524.5,2671" fill="#ee8a16"/>
<polyline fill="none" stroke="#86309e" stroke-width="4.6" stroke-linejoin="round" points="112.3,2372.3 363,2378 528,2449.5 697,2446.4 861,2527"/>
<polygon points="112.3,2383.8 122.8,2362.8 101.8,2362.8" fill="#a41ed8"/>
<polygon points="363,2389.5 373.5,2368.5 352.5,2368.5" fill="#a41ed8"/>
<polygon points="528,2461 538.5,2440 517.5,2440" fill="#a41ed8"/>
<polygon points="697,2457.9 707.5,2436.9 686.5,2436.9" fill="#a41ed8"/>
<polygon points="861,2538.5 871.5,2517.5 850.5,2517.5" fill="#a41ed8"/>
<polyline fill="none" stroke="#2aa52a" stroke-width="4.6" stroke-linejoin="round" points="112.3,2337.8 363,2328 528,2367 694,2523"/>
<polygon points="112.3,2326.3 122.8,2347.3 101.8,2347.3" fill="#1eaa1e"/>
<polygon points="363,2316.5 373.5,2337.5 352.5,2337.5" fill="#1eaa1e"/>
<polygon points="528,2355.5 538.5,2376.5 517.5,2376.5" fill="#1eaa1e"/>
<polygon points="694,2511.5 704.5,2532.5 683.5,2532.5" fill="#1eaa1e"/>
<polyline fill="none" stroke="#b42626" stroke-width="4.6" stroke-linejoin="round" points="112.3,2401 363,2401.5 528,2474.7 692,2586.5 721.5,2568.4"/>
<rect x="100.8" y="2389.5" width="23" height="23" fill="#fb0505"/>
<rect x="351.5" y="2390" width="23" height="23" fill="#fb0505"/>
<rect x="516.5" y="2463.2" width="23" height="23" fill="#fb0505"/>
<rect x="680.5" y="2575" width="23" height="23" fill="#fb0505"/>
<rect x="710" y="2556.9" width="23" height="23" fill="#fb0505"/>
<polyline fill="none" stroke="#16169a" stroke-width="4.6" stroke-linejoin="round" points="112.3,2410.8 363,2411 528,2577 694.5,2567.5"/>
<circle cx="112.3" cy="2410.8" r="10.5" fill="#0808ee"/>
<circle cx="363" cy="2411" r="10.5" fill="#0808ee"/>
<circle cx="528" cy="2577" r="10.5" fill="#0808ee"/>
<circle cx="694.5" cy="2567.5" r="10.5" fill="#0808ee"/>
<text x="317.6" y="2905.3" font-family='"Liberation Sans", sans-serif' font-size="39" font-weight="normal" text-anchor="start" letter-spacing="0.32">Hours post-challenge</text>
<line x1="1074.5" y1="2165.3" x2="1134.6" y2="2165.3" stroke="#16169a" stroke-width="5.6"/>
<circle cx="1104.8" cy="2165.3" r="10.5" fill="#0808ee"/>
<text x="1168" y="2178.6" font-family='"Liberation Sans", sans-serif' font-size="37" font-weight="normal" text-anchor="start" letter-spacing="2.6" fill="#111">655</text>
<line x1="1074.5" y1="2226.8" x2="1134.6" y2="2226.8" stroke="#b42626" stroke-width="5.6"/>
<rect x="1093.3" y="2215.3" width="23" height="23" fill="#fb0505"/>
<text x="1168" y="2240.1" font-family='"Liberation Sans", sans-serif' font-size="37" font-weight="normal" text-anchor="start" letter-spacing="2.6" fill="#111">656</text>
<line x1="1074.5" y1="2288.3" x2="1134.6" y2="2288.3" stroke="#2aa52a" stroke-width="5.6"/>
<polygon points="1104.8,2276.8 1115.3,2297.8 1094.3,2297.8" fill="#1eaa1e"/>
<text x="1168" y="2301.6" font-family='"Liberation Sans", sans-serif' font-size="37" font-weight="normal" text-anchor="start" letter-spacing="2.6" fill="#111">778</text>
<line x1="1074.5" y1="2349.8" x2="1134.6" y2="2349.8" stroke="#86309e" stroke-width="5.6"/>
<polygon points="1104.8,2361.3 1115.3,2340.3 1094.3,2340.3" fill="#a41ed8"/>
<text x="1168" y="2363.1" font-family='"Liberation Sans", sans-serif' font-size="37" font-weight="normal" text-anchor="start" letter-spacing="2.6" fill="#111">837</text>
<line x1="1074.5" y1="2411.3" x2="1134.6" y2="2411.3" stroke="#d89a4c" stroke-width="5.6"/>
<polygon points="1104.8,2401.3 1113.8,2411.3 1104.8,2421.3 1095.8,2411.3" fill="#ee8a16"/>
<text x="1168" y="2424.6" font-family='"Liberation Sans", sans-serif' font-size="37" font-weight="normal" text-anchor="start" letter-spacing="2.6" fill="#111">882</text>
<line x1="1074.5" y1="2472.8" x2="1134.6" y2="2472.8" stroke="#000000" stroke-width="5.6"/>
<circle cx="1104.8" cy="2472.8" r="13.5" fill="#000000"/>
<text x="1168" y="2486.1" font-family='"Liberation Sans", sans-serif' font-size="37" font-weight="normal" text-anchor="start" letter-spacing="2.6" fill="#111">986</text>
<line x1="1074.5" y1="2534.3" x2="1134.6" y2="2534.3" stroke="#8e6a34" stroke-width="5.6"/>
<rect x="1091.3" y="2520.8" width="27" height="27" fill="#a06a22"/>
<text x="1168" y="2547.6" font-family='"Liberation Sans", sans-serif' font-size="37" font-weight="normal" text-anchor="start" letter-spacing="2.6" fill="#111">356</text>
<line x1="1074.5" y1="2595.8" x2="1134.6" y2="2595.8" stroke="#0a0a62" stroke-width="5.6"/>
<polygon points="1104.8,2580.3 1119.3,2609.3 1090.3,2609.3" fill="#06068c"/>
<text x="1168" y="2609.1" font-family='"Liberation Sans", sans-serif' font-size="37" font-weight="normal" text-anchor="start" letter-spacing="2.6" fill="#111">396</text>
<line x1="1074.5" y1="2657.3" x2="1134.6" y2="2657.3" stroke="#551446" stroke-width="5.6"/>
<polygon points="1104.8,2672.8 1119.3,2643.8 1090.3,2643.8" fill="#680a58"/>
<text x="1168" y="2670.6" font-family='"Liberation Sans", sans-serif' font-size="37" font-weight="normal" text-anchor="start" letter-spacing="2.6" fill="#111">739</text>
<line x1="1074.5" y1="2718.8" x2="1134.6" y2="2718.8" stroke="#861414" stroke-width="5.6"/>
<polygon points="1104.8,2704.8 1118.1,2718.8 1104.8,2732.8 1091.5,2718.8" fill="#a00404"/>
<text x="1168" y="2732.1" font-family='"Liberation Sans", sans-serif' font-size="37" font-weight="normal" text-anchor="start" letter-spacing="2.6" fill="#111">895</text>
<line x1="1074.5" y1="2780.3" x2="1134.6" y2="2780.3" stroke="#1a5a24" stroke-width="3.6"/>
<polygon points="1104.8,2769.3 1107.9,2772.8 1112.6,2772.5 1112.3,2777.2 1115.8,2780.3 1112.3,2783.4 1112.6,2788.1 1107.9,2787.8 1104.8,2791.3 1101.7,2787.8 1097,2788.1 1097.3,2783.4 1093.8,2780.3 1097.3,2777.2 1097,2772.5 1101.7,2772.8" fill="#14785a"/>
<text x="1168" y="2793.6" font-family='"Liberation Sans", sans-serif' font-size="37" font-weight="normal" text-anchor="start" letter-spacing="2.6" fill="#111">966</text>
<line x1="1074.5" y1="2841.8" x2="1134.6" y2="2841.8" stroke="#e6c094" stroke-width="5.6"/>
<polygon points="1104.8,2831.8 1107.4,2838.2 1114.3,2838.7 1109.1,2843.2 1110.7,2849.9 1104.8,2846.3 1098.9,2849.9 1100.5,2843.2 1095.3,2838.7 1102.2,2838.2" fill="#e2b688"/>
<text x="1168" y="2855.1" font-family='"Liberation Sans", sans-serif' font-size="37" font-weight="normal" text-anchor="start" letter-spacing="2.6" fill="#111">985</text>
</g>
<g>
<text x="298.6" y="3131" font-family='"Liberation Sans", sans-serif' font-size="36" font-weight="bold" text-anchor="start" letter-spacing="2.19">Platelets (m/mm3)</text>
<line x1="105.8" y1="3205.5" x2="105.8" y2="3782.8" stroke="#000" stroke-width="5.4"/>
<line x1="89.8" y1="3767.3" x2="946.1" y2="3767.3" stroke="#000" stroke-width="5.800000000000001"/>
<line x1="105.8" y1="3767.3" x2="105.8" y2="3782.8" stroke="#000" stroke-width="5.0"/>
<text x="107" y="3826.3" font-family='"Liberation Sans", sans-serif' font-size="36" font-weight="bold" text-anchor="middle" letter-spacing="2.3">0</text>
<line x1="189.6" y1="3767.3" x2="189.6" y2="3782.8" stroke="#000" stroke-width="5.0"/>
<text x="190.7" y="3826.3" font-family='"Liberation Sans", sans-serif' font-size="36" font-weight="bold" text-anchor="middle" letter-spacing="2.3">24</text>
<line x1="273.4" y1="3767.3" x2="273.4" y2="3782.8" stroke="#000" stroke-width="5.0"/>
<text x="274.5" y="3826.3" font-family='"Liberation Sans", sans-serif' font-size="36" font-weight="bold" text-anchor="middle" letter-spacing="2.3">48</text>
<line x1="357.1" y1="3767.3" x2="357.1" y2="3782.8" stroke="#000" stroke-width="5.0"/>
<text x="358.3" y="3826.3" font-family='"Liberation Sans", sans-serif' font-size="36" font-weight="bold" text-anchor="middle" letter-spacing="2.3">72</text>
<line x1="440.9" y1="3767.3" x2="440.9" y2="3782.8" stroke="#000" stroke-width="5.0"/>
<text x="442.1" y="3826.3" font-family='"Liberation Sans", sans-serif' font-size="36" font-weight="bold" text-anchor="middle" letter-spacing="2.3">96</text>
<line x1="524.7" y1="3767.3" x2="524.7" y2="3782.8" stroke="#000" stroke-width="5.0"/>
<text x="525.8" y="3826.3" font-family='"Liberation Sans", sans-serif' font-size="36" font-weight="bold" text-anchor="middle" letter-spacing="2.3">120</text>
<line x1="608.5" y1="3767.3" x2="608.5" y2="3782.8" stroke="#000" stroke-width="5.0"/>
<text x="609.6" y="3826.3" font-family='"Liberation Sans", sans-serif' font-size="36" font-weight="bold" text-anchor="middle" letter-spacing="2.3">144</text>
<line x1="692.3" y1="3767.3" x2="692.3" y2="3782.8" stroke="#000" stroke-width="5.0"/>
<text x="693.4" y="3826.3" font-family='"Liberation Sans", sans-serif' font-size="36" font-weight="bold" text-anchor="middle" letter-spacing="2.3">168</text>
<line x1="776" y1="3767.3" x2="776" y2="3782.8" stroke="#000" stroke-width="5.0"/>
<text x="777.2" y="3826.3" font-family='"Liberation Sans", sans-serif' font-size="36" font-weight="bold" text-anchor="middle" letter-spacing="2.3">192</text>
<line x1="859.8" y1="3767.3" x2="859.8" y2="3782.8" stroke="#000" stroke-width="5.0"/>
<text x="861" y="3826.3" font-family='"Liberation Sans", sans-serif' font-size="36" font-weight="bold" text-anchor="middle" letter-spacing="2.3">216</text>
<line x1="943.6" y1="3767.3" x2="943.6" y2="3782.8" stroke="#000" stroke-width="5.0"/>
<text x="944.7" y="3826.3" font-family='"Liberation Sans", sans-serif' font-size="36" font-weight="bold" text-anchor="middle" letter-spacing="2.3">240</text>
<line x1="89.8" y1="3208" x2="105.8" y2="3208" stroke="#000" stroke-width="5.0"/>
<text x="85" y="3221.4" font-family='"Liberation Sans", sans-serif' font-size="36" font-weight="bold" text-anchor="end" letter-spacing="1.5">600</text>
<line x1="89.8" y1="3301.2" x2="105.8" y2="3301.2" stroke="#000" stroke-width="5.0"/>
<text x="85" y="3314.6" font-family='"Liberation Sans", sans-serif' font-size="36" font-weight="bold" text-anchor="end" letter-spacing="1.5">500</text>
<line x1="89.8" y1="3394.4" x2="105.8" y2="3394.4" stroke="#000" stroke-width="5.0"/>
<text x="85" y="3407.8" font-family='"Liberation Sans", sans-serif' font-size="36" font-weight="bold" text-anchor="end" letter-spacing="1.5">400</text>
<line x1="89.8" y1="3487.6" x2="105.8" y2="3487.6" stroke="#000" stroke-width="5.0"/>
<text x="85" y="3501" font-family='"Liberation Sans", sans-serif' font-size="36" font-weight="bold" text-anchor="end" letter-spacing="1.5">300</text>
<line x1="89.8" y1="3580.8" x2="105.8" y2="3580.8" stroke="#000" stroke-width="5.0"/>
<text x="85" y="3594.2" font-family='"Liberation Sans", sans-serif' font-size="36" font-weight="bold" text-anchor="end" letter-spacing="1.5">200</text>
<line x1="89.8" y1="3674" x2="105.8" y2="3674" stroke="#000" stroke-width="5.0"/>
<text x="85" y="3687.4" font-family='"Liberation Sans", sans-serif' font-size="36" font-weight="bold" text-anchor="end" letter-spacing="1.5">100</text>
<line x1="89.8" y1="3767.2" x2="105.8" y2="3767.2" stroke="#000" stroke-width="5.0"/>
<text x="85" y="3780.6" font-family='"Liberation Sans", sans-serif' font-size="36" font-weight="bold" text-anchor="end" letter-spacing="1.5">0</text>
<polyline fill="none" stroke="#e6c094" stroke-width="4.6" stroke-linejoin="round" points="105.8,3529.5 357,3449.5 521.8,3559 691.5,3595.5 938,3603.5"/>
<polygon points="105.8,3519.5 108.4,3525.9 115.3,3526.4 110.1,3530.9 111.7,3537.6 105.8,3534 99.9,3537.6 101.5,3530.9 96.3,3526.4 103.2,3525.9" fill="#e2b688"/>
<polygon points="357,3439.5 359.6,3445.9 366.5,3446.4 361.3,3450.9 362.9,3457.6 357,3454 351.1,3457.6 352.7,3450.9 347.5,3446.4 354.4,3445.9" fill="#e2b688"/>
<polygon points="521.8,3549 524.4,3555.4 531.3,3555.9 526.1,3560.4 527.7,3567.1 521.8,3563.5 515.9,3567.1 517.5,3560.4 512.3,3555.9 519.2,3555.4" fill="#e2b688"/>
<polygon points="691.5,3585.5 694.1,3591.9 701,3592.4 695.8,3596.9 697.4,3603.6 691.5,3600 685.6,3603.6 687.2,3596.9 682,3592.4 688.9,3591.9" fill="#e2b688"/>
<polygon points="938,3593.5 940.6,3599.9 947.5,3600.4 942.3,3604.9 943.9,3611.6 938,3608 932.1,3611.6 933.7,3604.9 928.5,3600.4 935.4,3599.9" fill="#e2b688"/>
<polyline fill="none" stroke="#1a5a24" stroke-width="4.6" stroke-linejoin="round" points="105.8,3263 357,3235.4 521.8,3508 694.2,3650"/>
<polygon points="105.8,3252 108.9,3255.5 113.6,3255.2 113.3,3259.9 116.8,3263 113.3,3266.1 113.6,3270.8 108.9,3270.5 105.8,3274 102.7,3270.5 98,3270.8 98.3,3266.1 94.8,3263 98.3,3259.9 98,3255.2 102.7,3255.5" fill="#14785a"/>
<polygon points="357,3224.4 360.1,3227.9 364.8,3227.6 364.5,3232.3 368,3235.4 364.5,3238.5 364.8,3243.2 360.1,3242.9 357,3246.4 353.9,3242.9 349.2,3243.2 349.5,3238.5 346,3235.4 349.5,3232.3 349.2,3227.6 353.9,3227.9" fill="#14785a"/>
<polygon points="521.8,3497 524.9,3500.5 529.6,3500.2 529.3,3504.9 532.8,3508 529.3,3511.1 529.6,3515.8 524.9,3515.5 521.8,3519 518.7,3515.5 514,3515.8 514.3,3511.1 510.8,3508 514.3,3504.9 514,3500.2 518.7,3500.5" fill="#14785a"/>
<polygon points="694.2,3639 697.3,3642.5 702,3642.2 701.7,3646.9 705.2,3650 701.7,3653.1 702,3657.8 697.3,3657.5 694.2,3661 691.1,3657.5 686.4,3657.8 686.7,3653.1 683.2,3650 686.7,3646.9 686.4,3642.2 691.1,3642.5" fill="#14785a"/>
<polyline fill="none" stroke="#861414" stroke-width="4.6" stroke-linejoin="round" points="105.8,3229.5 357,3273 521.8,3465 692.8,3620 717.6,3615.5"/>
<polygon points="105.8,3215.5 119.1,3229.5 105.8,3243.5 92.5,3229.5" fill="#a00404"/>
<polygon points="357,3259 370.3,3273 357,3287 343.7,3273" fill="#a00404"/>
<polygon points="521.8,3451 535.1,3465 521.8,3479 508.5,3465" fill="#a00404"/>
<polygon points="692.8,3606 706.1,3620 692.8,3634 679.5,3620" fill="#a00404"/>
<polygon points="717.6,3601.5 730.9,3615.5 717.6,3629.5 704.3,3615.5" fill="#a00404"/>
<polyline fill="none" stroke="#551446" stroke-width="4.6" stroke-linejoin="round" points="105.8,3459.5 357,3478 521.8,3634.5 691.5,3662 772.4,3675"/>
<polygon points="105.8,3475 120.3,3446 91.3,3446" fill="#680a58"/>
<polygon points="357,3493.5 371.5,3464.5 342.5,3464.5" fill="#680a58"/>
<polygon points="521.8,3650 536.3,3621 507.3,3621" fill="#680a58"/>
<polygon points="691.5,3677.5 706,3648.5 677,3648.5" fill="#680a58"/>
<polygon points="772.4,3690.5 786.9,3661.5 757.9,3661.5" fill="#680a58"/>
<polyline fill="none" stroke="#0a0a62" stroke-width="4.6" stroke-linejoin="round" points="105.8,3496 357,3557 521.8,3568.6 691.5,3667 938,3731.7"/>
<polygon points="105.8,3480.5 120.3,3509.5 91.3,3509.5" fill="#06068c"/>
<polygon points="357,3541.5 371.5,3570.5 342.5,3570.5" fill="#06068c"/>
<polygon points="521.8,3553.1 536.3,3582.1 507.3,3582.1" fill="#06068c"/>
<polygon points="691.5,3651.5 706,3680.5 677,3680.5" fill="#06068c"/>
<polygon points="938,3716.2 952.5,3745.2 923.5,3745.2" fill="#06068c"/>
<polyline fill="none" stroke="#8e6a34" stroke-width="4.6" stroke-linejoin="round" points="105.8,3550 357,3472 521.8,3600.5 691.5,3621.5 938,3659"/>
<rect x="92.3" y="3536.5" width="27" height="27" fill="#a06a22"/>
<rect x="343.5" y="3458.5" width="27" height="27" fill="#a06a22"/>
<rect x="508.3" y="3587" width="27" height="27" fill="#a06a22"/>
<rect x="678" y="3608" width="27" height="27" fill="#a06a22"/>
<rect x="924.5" y="3645.5" width="27" height="27" fill="#a06a22"/>
<polyline fill="none" stroke="#000000" stroke-width="4.6" stroke-linejoin="round" points="105.8,3452 357,3462 521.8,3532.5 691.5,3673.6 856,3638"/>
<circle cx="105.8" cy="3452" r="13.5" fill="#000000"/>
<circle cx="357" cy="3462" r="13.5" fill="#000000"/>
<circle cx="521.8" cy="3532.5" r="13.5" fill="#000000"/>
<circle cx="691.5" cy="3673.6" r="13.5" fill="#000000"/>
<circle cx="856" cy="3638" r="13.5" fill="#000000"/>
<polyline fill="none" stroke="#d89a4c" stroke-width="4.6" stroke-linejoin="round" points="105.8,3374.5 357,3500 529.3,3610"/>
<polygon points="105.8,3364.5 114.8,3374.5 105.8,3384.5 96.8,3374.5" fill="#ee8a16"/>
<polygon points="357,3490 366,3500 357,3510 348,3500" fill="#ee8a16"/>
<polygon points="529.3,3600 538.3,3610 529.3,3620 520.3,3610" fill="#ee8a16"/>
<polyline fill="none" stroke="#86309e" stroke-width="4.6" stroke-linejoin="round" points="105.8,3490.6 357,3433 521.8,3503 691.5,3656.2 856,3589.5"/>
<polygon points="105.8,3502.1 116.3,3481.1 95.3,3481.1" fill="#a41ed8"/>
<polygon points="357,3444.5 367.5,3423.5 346.5,3423.5" fill="#a41ed8"/>
<polygon points="521.8,3514.5 532.3,3493.5 511.3,3493.5" fill="#a41ed8"/>
<polygon points="691.5,3667.7 702,3646.7 681,3646.7" fill="#a41ed8"/>
<polygon points="856,3601 866.5,3580 845.5,3580" fill="#a41ed8"/>
<polyline fill="none" stroke="#2aa52a" stroke-width="4.6" stroke-linejoin="round" points="105.8,3446.5 357,3468.5 521.8,3543 688.5,3700.5"/>
<polygon points="105.8,3435 116.3,3456 95.3,3456" fill="#1eaa1e"/>
<polygon points="357,3457 367.5,3478 346.5,3478" fill="#1eaa1e"/>
<polygon points="521.8,3531.5 532.3,3552.5 511.3,3552.5" fill="#1eaa1e"/>
<polygon points="688.5,3689 699,3710 678,3710" fill="#1eaa1e"/>
<polyline fill="none" stroke="#b42626" stroke-width="4.6" stroke-linejoin="round" points="105.8,3408 357,3320.7 521.8,3484.7 686.5,3554 717.6,3598.7"/>
<rect x="94.3" y="3396.5" width="23" height="23" fill="#fb0505"/>
<rect x="345.5" y="3309.2" width="23" height="23" fill="#fb0505"/>
<rect x="510.3" y="3473.2" width="23" height="23" fill="#fb0505"/>
<rect x="675" y="3542.5" width="23" height="23" fill="#fb0505"/>
<rect x="706.1" y="3587.2" width="23" height="23" fill="#fb0505"/>
<polyline fill="none" stroke="#16169a" stroke-width="4.6" stroke-linejoin="round" points="105.8,3337.6 357,3423.7 521.8,3527.8 689,3641.8"/>
<circle cx="105.8" cy="3337.6" r="10.5" fill="#0808ee"/>
<circle cx="357" cy="3423.7" r="10.5" fill="#0808ee"/>
<circle cx="521.8" cy="3527.8" r="10.5" fill="#0808ee"/>
<circle cx="689" cy="3641.8" r="10.5" fill="#0808ee"/>
<text x="312.5" y="3873.1" font-family='"Liberation Sans", sans-serif' font-size="39" font-weight="normal" text-anchor="start" letter-spacing="0.29">Hours post-challenge</text>
<line x1="1071.5" y1="3131.8" x2="1131.5" y2="3131.8" stroke="#16169a" stroke-width="5.6"/>
<circle cx="1101.3" cy="3131.8" r="10.5" fill="#0808ee"/>
<text x="1163.7" y="3145.1" font-family='"Liberation Sans", sans-serif' font-size="37" font-weight="normal" text-anchor="start" letter-spacing="2.6" fill="#111">655</text>
<line x1="1071.5" y1="3192.9" x2="1131.5" y2="3192.9" stroke="#b42626" stroke-width="5.6"/>
<rect x="1089.8" y="3181.4" width="23" height="23" fill="#fb0505"/>
<text x="1163.7" y="3206.2" font-family='"Liberation Sans", sans-serif' font-size="37" font-weight="normal" text-anchor="start" letter-spacing="2.6" fill="#111">656</text>
<line x1="1071.5" y1="3254" x2="1131.5" y2="3254" stroke="#2aa52a" stroke-width="5.6"/>
<polygon points="1101.3,3242.5 1111.8,3263.5 1090.8,3263.5" fill="#1eaa1e"/>
<text x="1163.7" y="3267.3" font-family='"Liberation Sans", sans-serif' font-size="37" font-weight="normal" text-anchor="start" letter-spacing="2.6" fill="#111">778</text>
<line x1="1071.5" y1="3315.1" x2="1131.5" y2="3315.1" stroke="#86309e" stroke-width="5.6"/>
<polygon points="1101.3,3326.6 1111.8,3305.6 1090.8,3305.6" fill="#a41ed8"/>
<text x="1163.7" y="3328.4" font-family='"Liberation Sans", sans-serif' font-size="37" font-weight="normal" text-anchor="start" letter-spacing="2.6" fill="#111">837</text>
<line x1="1071.5" y1="3376.2" x2="1131.5" y2="3376.2" stroke="#d89a4c" stroke-width="5.6"/>
<polygon points="1101.3,3366.2 1110.3,3376.2 1101.3,3386.2 1092.3,3376.2" fill="#ee8a16"/>
<text x="1163.7" y="3389.5" font-family='"Liberation Sans", sans-serif' font-size="37" font-weight="normal" text-anchor="start" letter-spacing="2.6" fill="#111">882</text>
<line x1="1071.5" y1="3437.3" x2="1131.5" y2="3437.3" stroke="#000000" stroke-width="5.6"/>
<circle cx="1101.3" cy="3437.3" r="13.5" fill="#000000"/>
<text x="1163.7" y="3450.6" font-family='"Liberation Sans", sans-serif' font-size="37" font-weight="normal" text-anchor="start" letter-spacing="2.6" fill="#111">986</text>
<line x1="1071.5" y1="3498.4" x2="1131.5" y2="3498.4" stroke="#8e6a34" stroke-width="5.6"/>
<rect x="1087.8" y="3484.9" width="27" height="27" fill="#a06a22"/>
<text x="1163.7" y="3511.7" font-family='"Liberation Sans", sans-serif' font-size="37" font-weight="normal" text-anchor="start" letter-spacing="2.6" fill="#111">356</text>
<line x1="1071.5" y1="3559.5" x2="1131.5" y2="3559.5" stroke="#0a0a62" stroke-width="5.6"/>
<polygon points="1101.3,3544 1115.8,3573 1086.8,3573" fill="#06068c"/>
<text x="1163.7" y="3572.8" font-family='"Liberation Sans", sans-serif' font-size="37" font-weight="normal" text-anchor="start" letter-spacing="2.6" fill="#111">396</text>
<line x1="1071.5" y1="3620.6" x2="1131.5" y2="3620.6" stroke="#551446" stroke-width="5.6"/>
<polygon points="1101.3,3636.1 1115.8,3607.1 1086.8,3607.1" fill="#680a58"/>
<text x="1163.7" y="3633.9" font-family='"Liberation Sans", sans-serif' font-size="37" font-weight="normal" text-anchor="start" letter-spacing="2.6" fill="#111">739</text>
<line x1="1071.5" y1="3681.7" x2="1131.5" y2="3681.7" stroke="#861414" stroke-width="5.6"/>
<polygon points="1101.3,3667.7 1114.6,3681.7 1101.3,3695.7 1088,3681.7" fill="#a00404"/>
<text x="1163.7" y="3695" font-family='"Liberation Sans", sans-serif' font-size="37" font-weight="normal" text-anchor="start" letter-spacing="2.6" fill="#111">895</text>
<line x1="1071.5" y1="3742.8" x2="1131.5" y2="3742.8" stroke="#1a5a24" stroke-width="3.6"/>
<polygon points="1101.3,3731.8 1104.4,3735.3 1109.1,3735 1108.8,3739.7 1112.3,3742.8 1108.8,3745.9 1109.1,3750.6 1104.4,3750.3 1101.3,3753.8 1098.2,3750.3 1093.5,3750.6 1093.8,3745.9 1090.3,3742.8 1093.8,3739.7 1093.5,3735 1098.2,3735.3" fill="#14785a"/>
<text x="1163.7" y="3756.1" font-family='"Liberation Sans", sans-serif' font-size="37" font-weight="normal" text-anchor="start" letter-spacing="2.6" fill="#111">966</text>
<line x1="1071.5" y1="3803.9" x2="1131.5" y2="3803.9" stroke="#e6c094" stroke-width="5.6"/>
<polygon points="1101.3,3793.9 1103.9,3800.3 1110.8,3800.8 1105.6,3805.3 1107.2,3812 1101.3,3808.4 1095.4,3812 1097,3805.3 1091.8,3800.8 1098.7,3800.3" fill="#e2b688"/>
<text x="1163.7" y="3817.2" font-family='"Liberation Sans", sans-serif' font-size="37" font-weight="normal" text-anchor="start" letter-spacing="2.6" fill="#111">985</text>
</g>
<g>
<text x="1814.4" y="52" font-family='"Liberation Sans", sans-serif' font-size="36" font-weight="bold" text-anchor="start" letter-spacing="2.36">Red Blood Cells (M/µL)</text>
<line x1="1619.4" y1="98.5" x2="1619.4" y2="672.8" stroke="#000" stroke-width="5.4"/>
<line x1="1603.4" y1="657.3" x2="2453.9" y2="657.3" stroke="#000" stroke-width="5.3"/>
<line x1="1619.4" y1="657.3" x2="1619.4" y2="672.8" stroke="#000" stroke-width="5.0"/>
<text x="1620.6" y="715.8" font-family='"Liberation Sans", sans-serif' font-size="36" font-weight="bold" text-anchor="middle" letter-spacing="2.3">0</text>
<line x1="1702.6" y1="657.3" x2="1702.6" y2="672.8" stroke="#000" stroke-width="5.0"/>
<text x="1703.8" y="715.8" font-family='"Liberation Sans", sans-serif' font-size="36" font-weight="bold" text-anchor="middle" letter-spacing="2.3">24</text>
<line x1="1785.8" y1="657.3" x2="1785.8" y2="672.8" stroke="#000" stroke-width="5.0"/>
<text x="1787" y="715.8" font-family='"Liberation Sans", sans-serif' font-size="36" font-weight="bold" text-anchor="middle" letter-spacing="2.3">48</text>
<line x1="1869" y1="657.3" x2="1869" y2="672.8" stroke="#000" stroke-width="5.0"/>
<text x="1870.2" y="715.8" font-family='"Liberation Sans", sans-serif' font-size="36" font-weight="bold" text-anchor="middle" letter-spacing="2.3">72</text>
<line x1="1952.2" y1="657.3" x2="1952.2" y2="672.8" stroke="#000" stroke-width="5.0"/>
<text x="1953.4" y="715.8" font-family='"Liberation Sans", sans-serif' font-size="36" font-weight="bold" text-anchor="middle" letter-spacing="2.3">96</text>
<line x1="2035.4" y1="657.3" x2="2035.4" y2="672.8" stroke="#000" stroke-width="5.0"/>
<text x="2036.6" y="715.8" font-family='"Liberation Sans", sans-serif' font-size="36" font-weight="bold" text-anchor="middle" letter-spacing="2.3">120</text>
<line x1="2118.6" y1="657.3" x2="2118.6" y2="672.8" stroke="#000" stroke-width="5.0"/>
<text x="2119.8" y="715.8" font-family='"Liberation Sans", sans-serif' font-size="36" font-weight="bold" text-anchor="middle" letter-spacing="2.3">144</text>
<line x1="2201.8" y1="657.3" x2="2201.8" y2="672.8" stroke="#000" stroke-width="5.0"/>
<text x="2203" y="715.8" font-family='"Liberation Sans", sans-serif' font-size="36" font-weight="bold" text-anchor="middle" letter-spacing="2.3">168</text>
<line x1="2285" y1="657.3" x2="2285" y2="672.8" stroke="#000" stroke-width="5.0"/>
<text x="2286.2" y="715.8" font-family='"Liberation Sans", sans-serif' font-size="36" font-weight="bold" text-anchor="middle" letter-spacing="2.3">192</text>
<line x1="2368.2" y1="657.3" x2="2368.2" y2="672.8" stroke="#000" stroke-width="5.0"/>
<text x="2369.4" y="715.8" font-family='"Liberation Sans", sans-serif' font-size="36" font-weight="bold" text-anchor="middle" letter-spacing="2.3">216</text>
<line x1="2451.4" y1="657.3" x2="2451.4" y2="672.8" stroke="#000" stroke-width="5.0"/>
<text x="2452.6" y="715.8" font-family='"Liberation Sans", sans-serif' font-size="36" font-weight="bold" text-anchor="middle" letter-spacing="2.3">240</text>
<line x1="1603.4" y1="101" x2="1619.4" y2="101" stroke="#000" stroke-width="5.0"/>
<text x="1598.6" y="114.4" font-family='"Liberation Sans", sans-serif' font-size="36" font-weight="bold" text-anchor="end" letter-spacing="1.5">5.5</text>
<line x1="1603.4" y1="212.2" x2="1619.4" y2="212.2" stroke="#000" stroke-width="5.0"/>
<text x="1598.6" y="225.6" font-family='"Liberation Sans", sans-serif' font-size="36" font-weight="bold" text-anchor="end" letter-spacing="1.5">5.0</text>
<line x1="1603.4" y1="323.4" x2="1619.4" y2="323.4" stroke="#000" stroke-width="5.0"/>
<text x="1598.6" y="336.8" font-family='"Liberation Sans", sans-serif' font-size="36" font-weight="bold" text-anchor="end" letter-spacing="1.5">4.5</text>
<line x1="1603.4" y1="434.6" x2="1619.4" y2="434.6" stroke="#000" stroke-width="5.0"/>
<text x="1598.6" y="448" font-family='"Liberation Sans", sans-serif' font-size="36" font-weight="bold" text-anchor="end" letter-spacing="1.5">4.0</text>
<line x1="1603.4" y1="545.8" x2="1619.4" y2="545.8" stroke="#000" stroke-width="5.0"/>
<text x="1598.6" y="559.2" font-family='"Liberation Sans", sans-serif' font-size="36" font-weight="bold" text-anchor="end" letter-spacing="1.5">3.5</text>
<line x1="1603.4" y1="657" x2="1619.4" y2="657" stroke="#000" stroke-width="5.0"/>
<text x="1598.6" y="670.4" font-family='"Liberation Sans", sans-serif' font-size="36" font-weight="bold" text-anchor="end" letter-spacing="1.5">3.0</text>
<line x1="1603.4" y1="229.5" x2="1619.4" y2="229.5" stroke="#000" stroke-width="4.6"/>
<line x1="1633.5" y1="229.5" x2="2439" y2="229.5" stroke="#000" stroke-width="4.9" stroke-dasharray="5.2 11.444"/>
<path d="M1619.5 188.5V297.8" stroke="#000" stroke-width="5.8" fill="none"/>
<path d="M1607.7 188.5H1631.3M1607.7 297.8H1631.3" stroke="#000" stroke-width="5" fill="none"/>
<path d="M1868 179.5V295" stroke="#000" stroke-width="5.8" fill="none"/>
<path d="M1856.2 179.5H1879.8M1856.2 295H1879.8" stroke="#000" stroke-width="5" fill="none"/>
<path d="M2032.7 234.5V437.2" stroke="#000" stroke-width="5.8" fill="none"/>
<path d="M2020.9 234.5H2044.5M2020.9 437.2H2044.5" stroke="#000" stroke-width="5" fill="none"/>
<path d="M2200.6 300.3V491.4" stroke="#000" stroke-width="5.8" fill="none"/>
<path d="M2188.8 300.3H2212.4M2188.8 491.4H2212.4" stroke="#000" stroke-width="5" fill="none"/>
<path d="M2226.2 276V404.8" stroke="#000" stroke-width="5.8" fill="none"/>
<path d="M2214.4 276H2238M2214.4 404.8H2238" stroke="#000" stroke-width="5" fill="none"/>
<path d="M2365.5 309V361.8" stroke="#000" stroke-width="5.8" fill="none"/>
<path d="M2353.7 309H2377.3M2353.7 361.8H2377.3" stroke="#000" stroke-width="5" fill="none"/>
<path d="M2445.5 443V616.3" stroke="#000" stroke-width="5.8" fill="none"/>
<path d="M2433.7 443H2457.3M2433.7 616.3H2457.3" stroke="#000" stroke-width="5" fill="none"/>
<polyline fill="none" stroke="#000" stroke-width="5.1" stroke-linejoin="round" points="1619.5,243.4 1868,238 2032.7,336.6 2200.6,396 2226.2,341.3 2279.6,494.5 2365.5,335.8 2445.5,528.8"/>
<circle cx="1619.5" cy="243.4" r="11" fill="#000"/>
<circle cx="1868" cy="238" r="11" fill="#000"/>
<circle cx="2032.7" cy="336.6" r="11" fill="#000"/>
<circle cx="2200.6" cy="396" r="11" fill="#000"/>
<circle cx="2226.2" cy="341.3" r="11" fill="#000"/>
<circle cx="2279.6" cy="494.5" r="11" fill="#000"/>
<circle cx="2365.5" cy="335.8" r="11" fill="#000"/>
<circle cx="2445.5" cy="528.8" r="11" fill="#000"/>
<text x="1850.4" y="768.9" font-family='"Liberation Sans", sans-serif' font-size="39" font-weight="normal" text-anchor="start" letter-spacing="0.24">Hours post-challenge</text>
</g>
<g>
<text x="1851.2" y="1109.3" font-family='"Liberation Sans", sans-serif' font-size="36" font-weight="bold" text-anchor="start" letter-spacing="1.72">Hematocrit (%)</text>
<line x1="1619.4" y1="1182.2" x2="1619.4" y2="1753.8" stroke="#000" stroke-width="5.4"/>
<line x1="1603.4" y1="1738.3" x2="2453.9" y2="1738.3" stroke="#000" stroke-width="5.3"/>
<line x1="1619.4" y1="1738.3" x2="1619.4" y2="1753.8" stroke="#000" stroke-width="5.0"/>
<text x="1620.6" y="1796.8" font-family='"Liberation Sans", sans-serif' font-size="36" font-weight="bold" text-anchor="middle" letter-spacing="2.3">0</text>
<line x1="1702.6" y1="1738.3" x2="1702.6" y2="1753.8" stroke="#000" stroke-width="5.0"/>
<text x="1703.8" y="1796.8" font-family='"Liberation Sans", sans-serif' font-size="36" font-weight="bold" text-anchor="middle" letter-spacing="2.3">24</text>
<line x1="1785.8" y1="1738.3" x2="1785.8" y2="1753.8" stroke="#000" stroke-width="5.0"/>
<text x="1787" y="1796.8" font-family='"Liberation Sans", sans-serif' font-size="36" font-weight="bold" text-anchor="middle" letter-spacing="2.3">48</text>
<line x1="1869" y1="1738.3" x2="1869" y2="1753.8" stroke="#000" stroke-width="5.0"/>
<text x="1870.2" y="1796.8" font-family='"Liberation Sans", sans-serif' font-size="36" font-weight="bold" text-anchor="middle" letter-spacing="2.3">72</text>
<line x1="1952.2" y1="1738.3" x2="1952.2" y2="1753.8" stroke="#000" stroke-width="5.0"/>
<text x="1953.4" y="1796.8" font-family='"Liberation Sans", sans-serif' font-size="36" font-weight="bold" text-anchor="middle" letter-spacing="2.3">96</text>
<line x1="2035.4" y1="1738.3" x2="2035.4" y2="1753.8" stroke="#000" stroke-width="5.0"/>
<text x="2036.6" y="1796.8" font-family='"Liberation Sans", sans-serif' font-size="36" font-weight="bold" text-anchor="middle" letter-spacing="2.3">120</text>
<line x1="2118.6" y1="1738.3" x2="2118.6" y2="1753.8" stroke="#000" stroke-width="5.0"/>
<text x="2119.8" y="1796.8" font-family='"Liberation Sans", sans-serif' font-size="36" font-weight="bold" text-anchor="middle" letter-spacing="2.3">144</text>
<line x1="2201.8" y1="1738.3" x2="2201.8" y2="1753.8" stroke="#000" stroke-width="5.0"/>
<text x="2203" y="1796.8" font-family='"Liberation Sans", sans-serif' font-size="36" font-weight="bold" text-anchor="middle" letter-spacing="2.3">168</text>
<line x1="2285" y1="1738.3" x2="2285" y2="1753.8" stroke="#000" stroke-width="5.0"/>
<text x="2286.2" y="1796.8" font-family='"Liberation Sans", sans-serif' font-size="36" font-weight="bold" text-anchor="middle" letter-spacing="2.3">192</text>
<line x1="2368.2" y1="1738.3" x2="2368.2" y2="1753.8" stroke="#000" stroke-width="5.0"/>
<text x="2369.4" y="1796.8" font-family='"Liberation Sans", sans-serif' font-size="36" font-weight="bold" text-anchor="middle" letter-spacing="2.3">216</text>
<line x1="2451.4" y1="1738.3" x2="2451.4" y2="1753.8" stroke="#000" stroke-width="5.0"/>
<text x="2452.6" y="1796.8" font-family='"Liberation Sans", sans-serif' font-size="36" font-weight="bold" text-anchor="middle" letter-spacing="2.3">240</text>
<line x1="1603.4" y1="1184.7" x2="1619.4" y2="1184.7" stroke="#000" stroke-width="5.0"/>
<text x="1598.6" y="1198.1" font-family='"Liberation Sans", sans-serif' font-size="36" font-weight="bold" text-anchor="end" letter-spacing="1.5">40</text>
<line x1="1603.4" y1="1323.1" x2="1619.4" y2="1323.1" stroke="#000" stroke-width="5.0"/>
<text x="1598.6" y="1336.5" font-family='"Liberation Sans", sans-serif' font-size="36" font-weight="bold" text-anchor="end" letter-spacing="1.5">35</text>
<line x1="1603.4" y1="1461.5" x2="1619.4" y2="1461.5" stroke="#000" stroke-width="5.0"/>
<text x="1598.6" y="1474.9" font-family='"Liberation Sans", sans-serif' font-size="36" font-weight="bold" text-anchor="end" letter-spacing="1.5">30</text>
<line x1="1603.4" y1="1599.9" x2="1619.4" y2="1599.9" stroke="#000" stroke-width="5.0"/>
<text x="1598.6" y="1613.3" font-family='"Liberation Sans", sans-serif' font-size="36" font-weight="bold" text-anchor="end" letter-spacing="1.5">25</text>
<line x1="1603.4" y1="1738.3" x2="1619.4" y2="1738.3" stroke="#000" stroke-width="5.0"/>
<text x="1598.6" y="1751.7" font-family='"Liberation Sans", sans-serif' font-size="36" font-weight="bold" text-anchor="end" letter-spacing="1.5">20</text>
<line x1="1603.4" y1="1339" x2="1619.4" y2="1339" stroke="#000" stroke-width="4.6"/>
<line x1="1633.5" y1="1339" x2="2439" y2="1339" stroke="#000" stroke-width="4.9" stroke-dasharray="5.2 11.444"/>
<path d="M1619.5 1309V1397.6" stroke="#000" stroke-width="5.8" fill="none"/>
<path d="M1607.7 1309H1631.3M1607.7 1397.6H1631.3" stroke="#000" stroke-width="5" fill="none"/>
<path d="M1868 1298V1402.6" stroke="#000" stroke-width="5.8" fill="none"/>
<path d="M1856.2 1298H1879.8M1856.2 1402.6H1879.8" stroke="#000" stroke-width="5" fill="none"/>
<path d="M2032.7 1350.4V1507.4" stroke="#000" stroke-width="5.8" fill="none"/>
<path d="M2020.9 1350.4H2044.5M2020.9 1507.4H2044.5" stroke="#000" stroke-width="5" fill="none"/>
<path d="M2200.6 1419.9V1555" stroke="#000" stroke-width="5.8" fill="none"/>
<path d="M2188.8 1419.9H2212.4M2188.8 1555H2212.4" stroke="#000" stroke-width="5" fill="none"/>
<path d="M2226.2 1350.4V1524.4" stroke="#000" stroke-width="5.8" fill="none"/>
<path d="M2214.4 1350.4H2238M2214.4 1524.4H2238" stroke="#000" stroke-width="5" fill="none"/>
<path d="M2445.5 1515.7V1660.8" stroke="#000" stroke-width="5.8" fill="none"/>
<path d="M2433.7 1515.7H2457.3M2433.7 1660.8H2457.3" stroke="#000" stroke-width="5" fill="none"/>
<polyline fill="none" stroke="#000" stroke-width="5.1" stroke-linejoin="round" points="1619.5,1353.2 1868,1350.7 2032.7,1428.4 2200.6,1487 2226.2,1436.8 2279.6,1561 2365.5,1432.6 2445.5,1588.9"/>
<circle cx="1619.5" cy="1353.2" r="11" fill="#000"/>
<circle cx="1868" cy="1350.7" r="11" fill="#000"/>
<circle cx="2032.7" cy="1428.4" r="11" fill="#000"/>
<circle cx="2200.6" cy="1487" r="11" fill="#000"/>
<circle cx="2226.2" cy="1436.8" r="11" fill="#000"/>
<circle cx="2279.6" cy="1561" r="11" fill="#000"/>
<circle cx="2365.5" cy="1432.6" r="11" fill="#000"/>
<circle cx="2445.5" cy="1588.9" r="11" fill="#000"/>
<text x="1822.5" y="1849.4" font-family='"Liberation Sans", sans-serif' font-size="39" font-weight="normal" text-anchor="start" letter-spacing="0.21">Hours post-challenge</text>
</g>
<g>
<text x="1799.1" y="2165.3" font-family='"Liberation Sans", sans-serif' font-size="36" font-weight="bold" text-anchor="start" letter-spacing="2.43">Hemoglobin (g/dL)</text>
<line x1="1619.4" y1="2239.5" x2="1619.4" y2="2812.2" stroke="#000" stroke-width="5.4"/>
<line x1="1603.4" y1="2796.7" x2="2453.9" y2="2796.7" stroke="#000" stroke-width="5.3"/>
<line x1="1619.4" y1="2796.7" x2="1619.4" y2="2812.2" stroke="#000" stroke-width="5.0"/>
<text x="1620.6" y="2855.2" font-family='"Liberation Sans", sans-serif' font-size="36" font-weight="bold" text-anchor="middle" letter-spacing="2.3">0</text>
<line x1="1702.6" y1="2796.7" x2="1702.6" y2="2812.2" stroke="#000" stroke-width="5.0"/>
<text x="1703.8" y="2855.2" font-family='"Liberation Sans", sans-serif' font-size="36" font-weight="bold" text-anchor="middle" letter-spacing="2.3">24</text>
<line x1="1785.8" y1="2796.7" x2="1785.8" y2="2812.2" stroke="#000" stroke-width="5.0"/>
<text x="1787" y="2855.2" font-family='"Liberation Sans", sans-serif' font-size="36" font-weight="bold" text-anchor="middle" letter-spacing="2.3">48</text>
<line x1="1869" y1="2796.7" x2="1869" y2="2812.2" stroke="#000" stroke-width="5.0"/>
<text x="1870.2" y="2855.2" font-family='"Liberation Sans", sans-serif' font-size="36" font-weight="bold" text-anchor="middle" letter-spacing="2.3">72</text>
<line x1="1952.2" y1="2796.7" x2="1952.2" y2="2812.2" stroke="#000" stroke-width="5.0"/>
<text x="1953.4" y="2855.2" font-family='"Liberation Sans", sans-serif' font-size="36" font-weight="bold" text-anchor="middle" letter-spacing="2.3">96</text>
<line x1="2035.4" y1="2796.7" x2="2035.4" y2="2812.2" stroke="#000" stroke-width="5.0"/>
<text x="2036.6" y="2855.2" font-family='"Liberation Sans", sans-serif' font-size="36" font-weight="bold" text-anchor="middle" letter-spacing="2.3">120</text>
<line x1="2118.6" y1="2796.7" x2="2118.6" y2="2812.2" stroke="#000" stroke-width="5.0"/>
<text x="2119.8" y="2855.2" font-family='"Liberation Sans", sans-serif' font-size="36" font-weight="bold" text-anchor="middle" letter-spacing="2.3">144</text>
<line x1="2201.8" y1="2796.7" x2="2201.8" y2="2812.2" stroke="#000" stroke-width="5.0"/>
<text x="2203" y="2855.2" font-family='"Liberation Sans", sans-serif' font-size="36" font-weight="bold" text-anchor="middle" letter-spacing="2.3">168</text>
<line x1="2285" y1="2796.7" x2="2285" y2="2812.2" stroke="#000" stroke-width="5.0"/>
<text x="2286.2" y="2855.2" font-family='"Liberation Sans", sans-serif' font-size="36" font-weight="bold" text-anchor="middle" letter-spacing="2.3">192</text>
<line x1="2368.2" y1="2796.7" x2="2368.2" y2="2812.2" stroke="#000" stroke-width="5.0"/>
<text x="2369.4" y="2855.2" font-family='"Liberation Sans", sans-serif' font-size="36" font-weight="bold" text-anchor="middle" letter-spacing="2.3">216</text>
<line x1="2451.4" y1="2796.7" x2="2451.4" y2="2812.2" stroke="#000" stroke-width="5.0"/>
<text x="2452.6" y="2855.2" font-family='"Liberation Sans", sans-serif' font-size="36" font-weight="bold" text-anchor="middle" letter-spacing="2.3">240</text>
<line x1="1603.4" y1="2242" x2="1619.4" y2="2242" stroke="#000" stroke-width="5.0"/>
<text x="1598.6" y="2255.4" font-family='"Liberation Sans", sans-serif' font-size="36" font-weight="bold" text-anchor="end" letter-spacing="1.5">12</text>
<line x1="1603.4" y1="2334.4" x2="1619.4" y2="2334.4" stroke="#000" stroke-width="5.0"/>
<text x="1598.6" y="2347.8" font-family='"Liberation Sans", sans-serif' font-size="36" font-weight="bold" text-anchor="end" letter-spacing="1.5">11</text>
<line x1="1603.4" y1="2426.9" x2="1619.4" y2="2426.9" stroke="#000" stroke-width="5.0"/>
<text x="1598.6" y="2440.3" font-family='"Liberation Sans", sans-serif' font-size="36" font-weight="bold" text-anchor="end" letter-spacing="1.5">10</text>
<line x1="1603.4" y1="2519.3" x2="1619.4" y2="2519.3" stroke="#000" stroke-width="5.0"/>
<text x="1598.6" y="2532.8" font-family='"Liberation Sans", sans-serif' font-size="36" font-weight="bold" text-anchor="end" letter-spacing="1.5">9</text>
<line x1="1603.4" y1="2611.8" x2="1619.4" y2="2611.8" stroke="#000" stroke-width="5.0"/>
<text x="1598.6" y="2625.2" font-family='"Liberation Sans", sans-serif' font-size="36" font-weight="bold" text-anchor="end" letter-spacing="1.5">8</text>
<line x1="1603.4" y1="2704.2" x2="1619.4" y2="2704.2" stroke="#000" stroke-width="5.0"/>
<text x="1598.6" y="2717.7" font-family='"Liberation Sans", sans-serif' font-size="36" font-weight="bold" text-anchor="end" letter-spacing="1.5">7</text>
<line x1="1603.4" y1="2796.7" x2="1619.4" y2="2796.7" stroke="#000" stroke-width="5.0"/>
<text x="1598.6" y="2810.1" font-family='"Liberation Sans", sans-serif' font-size="36" font-weight="bold" text-anchor="end" letter-spacing="1.5">6</text>
<line x1="1603.4" y1="2333" x2="1619.4" y2="2333" stroke="#000" stroke-width="4.6"/>
<line x1="1633.5" y1="2333" x2="2439" y2="2333" stroke="#000" stroke-width="4.9" stroke-dasharray="5.2 11.444"/>
<path d="M1619.5 2328.4V2439" stroke="#000" stroke-width="5.8" fill="none"/>
<path d="M1607.7 2328.4H1631.3M1607.7 2439H1631.3" stroke="#000" stroke-width="5" fill="none"/>
<path d="M1868 2318.5V2446.6" stroke="#000" stroke-width="5.8" fill="none"/>
<path d="M1856.2 2318.5H1879.8M1856.2 2446.6H1879.8" stroke="#000" stroke-width="5" fill="none"/>
<path d="M2032.7 2398V2570.2" stroke="#000" stroke-width="5.8" fill="none"/>
<path d="M2020.9 2398H2044.5M2020.9 2570.2H2044.5" stroke="#000" stroke-width="5" fill="none"/>
<path d="M2200.6 2436.7V2599.7" stroke="#000" stroke-width="5.8" fill="none"/>
<path d="M2188.8 2436.7H2212.4M2188.8 2599.7H2212.4" stroke="#000" stroke-width="5" fill="none"/>
<path d="M2226.2 2441.7V2531.6" stroke="#000" stroke-width="5.8" fill="none"/>
<path d="M2214.4 2441.7H2238M2214.4 2531.6H2238" stroke="#000" stroke-width="5" fill="none"/>
<path d="M2365.5 2459.8V2483.8" stroke="#000" stroke-width="5.8" fill="none"/>
<path d="M2353.7 2459.8H2377.3M2353.7 2483.8H2377.3" stroke="#000" stroke-width="5" fill="none"/>
<path d="M2445.5 2624.5V2714.8" stroke="#000" stroke-width="5.8" fill="none"/>
<path d="M2433.7 2624.5H2457.3M2433.7 2714.8H2457.3" stroke="#000" stroke-width="5" fill="none"/>
<polyline fill="none" stroke="#000" stroke-width="5.1" stroke-linejoin="round" points="1619.5,2383.3 1868,2383.3 2032.7,2483.4 2200.6,2519 2226.2,2486.5 2279.6,2584.5 2365.5,2472.6 2445.5,2669.6"/>
<circle cx="1619.5" cy="2383.3" r="11" fill="#000"/>
<circle cx="1868" cy="2383.3" r="11" fill="#000"/>
<circle cx="2032.7" cy="2483.4" r="11" fill="#000"/>
<circle cx="2200.6" cy="2519" r="11" fill="#000"/>
<circle cx="2226.2" cy="2486.5" r="11" fill="#000"/>
<circle cx="2279.6" cy="2584.5" r="11" fill="#000"/>
<circle cx="2365.5" cy="2472.6" r="11" fill="#000"/>
<circle cx="2445.5" cy="2669.6" r="11" fill="#000"/>
<text x="1822.5" y="2908.2" font-family='"Liberation Sans", sans-serif' font-size="39" font-weight="normal" text-anchor="start" letter-spacing="0.21">Hours post-challenge</text>
</g>
<g>
<text x="1807.6" y="3130.3" font-family='"Liberation Sans", sans-serif' font-size="36" font-weight="bold" text-anchor="start" letter-spacing="2.16">Platelets (m/mm3)</text>
<line x1="1619.4" y1="3202.1" x2="1619.4" y2="3777" stroke="#000" stroke-width="5.4"/>
<line x1="1603.4" y1="3761.5" x2="2453.9" y2="3761.5" stroke="#000" stroke-width="5.3"/>
<line x1="1619.4" y1="3761.5" x2="1619.4" y2="3777" stroke="#000" stroke-width="5.0"/>
<text x="1620.6" y="3820" font-family='"Liberation Sans", sans-serif' font-size="36" font-weight="bold" text-anchor="middle" letter-spacing="2.3">0</text>
<line x1="1702.6" y1="3761.5" x2="1702.6" y2="3777" stroke="#000" stroke-width="5.0"/>
<text x="1703.8" y="3820" font-family='"Liberation Sans", sans-serif' font-size="36" font-weight="bold" text-anchor="middle" letter-spacing="2.3">24</text>
<line x1="1785.8" y1="3761.5" x2="1785.8" y2="3777" stroke="#000" stroke-width="5.0"/>
<text x="1787" y="3820" font-family='"Liberation Sans", sans-serif' font-size="36" font-weight="bold" text-anchor="middle" letter-spacing="2.3">48</text>
<line x1="1869" y1="3761.5" x2="1869" y2="3777" stroke="#000" stroke-width="5.0"/>
<text x="1870.2" y="3820" font-family='"Liberation Sans", sans-serif' font-size="36" font-weight="bold" text-anchor="middle" letter-spacing="2.3">72</text>
<line x1="1952.2" y1="3761.5" x2="1952.2" y2="3777" stroke="#000" stroke-width="5.0"/>
<text x="1953.4" y="3820" font-family='"Liberation Sans", sans-serif' font-size="36" font-weight="bold" text-anchor="middle" letter-spacing="2.3">96</text>
<line x1="2035.4" y1="3761.5" x2="2035.4" y2="3777" stroke="#000" stroke-width="5.0"/>
<text x="2036.6" y="3820" font-family='"Liberation Sans", sans-serif' font-size="36" font-weight="bold" text-anchor="middle" letter-spacing="2.3">120</text>
<line x1="2118.6" y1="3761.5" x2="2118.6" y2="3777" stroke="#000" stroke-width="5.0"/>
<text x="2119.8" y="3820" font-family='"Liberation Sans", sans-serif' font-size="36" font-weight="bold" text-anchor="middle" letter-spacing="2.3">144</text>
<line x1="2201.8" y1="3761.5" x2="2201.8" y2="3777" stroke="#000" stroke-width="5.0"/>
<text x="2203" y="3820" font-family='"Liberation Sans", sans-serif' font-size="36" font-weight="bold" text-anchor="middle" letter-spacing="2.3">168</text>
<line x1="2285" y1="3761.5" x2="2285" y2="3777" stroke="#000" stroke-width="5.0"/>
<text x="2286.2" y="3820" font-family='"Liberation Sans", sans-serif' font-size="36" font-weight="bold" text-anchor="middle" letter-spacing="2.3">192</text>
<line x1="2368.2" y1="3761.5" x2="2368.2" y2="3777" stroke="#000" stroke-width="5.0"/>
<text x="2369.4" y="3820" font-family='"Liberation Sans", sans-serif' font-size="36" font-weight="bold" text-anchor="middle" letter-spacing="2.3">216</text>
<line x1="2451.4" y1="3761.5" x2="2451.4" y2="3777" stroke="#000" stroke-width="5.0"/>
<text x="2452.6" y="3820" font-family='"Liberation Sans", sans-serif' font-size="36" font-weight="bold" text-anchor="middle" letter-spacing="2.3">240</text>
<line x1="1603.4" y1="3204.6" x2="1619.4" y2="3204.6" stroke="#000" stroke-width="5.0"/>
<text x="1598.6" y="3218" font-family='"Liberation Sans", sans-serif' font-size="36" font-weight="bold" text-anchor="end" letter-spacing="1.5">600</text>
<line x1="1603.4" y1="3390.2" x2="1619.4" y2="3390.2" stroke="#000" stroke-width="5.0"/>
<text x="1598.6" y="3403.6" font-family='"Liberation Sans", sans-serif' font-size="36" font-weight="bold" text-anchor="end" letter-spacing="1.5">400</text>
<line x1="1603.4" y1="3575.8" x2="1619.4" y2="3575.8" stroke="#000" stroke-width="5.0"/>
<text x="1598.6" y="3589.2" font-family='"Liberation Sans", sans-serif' font-size="36" font-weight="bold" text-anchor="end" letter-spacing="1.5">200</text>
<line x1="1603.4" y1="3761.4" x2="1619.4" y2="3761.4" stroke="#000" stroke-width="5.0"/>
<text x="1598.6" y="3774.8" font-family='"Liberation Sans", sans-serif' font-size="36" font-weight="bold" text-anchor="end" letter-spacing="1.5">0</text>
<line x1="1603.4" y1="3456" x2="1619.4" y2="3456" stroke="#000" stroke-width="4.6"/>
<line x1="1633.5" y1="3456" x2="2439" y2="3456" stroke="#000" stroke-width="4.9" stroke-dasharray="5.2 11.444"/>
<path d="M1619.5 3315.9V3517.4" stroke="#000" stroke-width="5.8" fill="none"/>
<path d="M1607.7 3315.9H1631.3M1607.7 3517.4H1631.3" stroke="#000" stroke-width="5" fill="none"/>
<path d="M1868 3322.8V3514.9" stroke="#000" stroke-width="5.8" fill="none"/>
<path d="M1856.2 3322.8H1879.8M1856.2 3514.9H1879.8" stroke="#000" stroke-width="5" fill="none"/>
<path d="M2032.7 3488.8V3592.5" stroke="#000" stroke-width="5.8" fill="none"/>
<path d="M2020.9 3488.8H2044.5M2020.9 3592.5H2044.5" stroke="#000" stroke-width="5" fill="none"/>
<path d="M2200.6 3597.7V3675.6" stroke="#000" stroke-width="5.8" fill="none"/>
<path d="M2188.8 3597.7H2212.4M2188.8 3675.6H2212.4" stroke="#000" stroke-width="5" fill="none"/>
<path d="M2226.2 3589.7V3617.7" stroke="#000" stroke-width="5.8" fill="none"/>
<path d="M2214.4 3589.7H2238M2214.4 3617.7H2238" stroke="#000" stroke-width="5" fill="none"/>
<path d="M2365.5 3578.5V3640.9" stroke="#000" stroke-width="5.8" fill="none"/>
<path d="M2353.7 3578.5H2377.3M2353.7 3640.9H2377.3" stroke="#000" stroke-width="5" fill="none"/>
<path d="M2445.5 3595.7V3723.6" stroke="#000" stroke-width="5.8" fill="none"/>
<path d="M2433.7 3595.7H2457.3M2433.7 3723.6H2457.3" stroke="#000" stroke-width="5" fill="none"/>
<polyline fill="none" stroke="#000" stroke-width="5.1" stroke-linejoin="round" points="1619.5,3417.6 1868,3419 2032.7,3540.5 2200.6,3637.7 2226.2,3604.5 2279.6,3669.6 2365.5,3609.7 2445.5,3659.6"/>
<circle cx="1619.5" cy="3417.6" r="11" fill="#000"/>
<circle cx="1868" cy="3419" r="11" fill="#000"/>
<circle cx="2032.7" cy="3540.5" r="11" fill="#000"/>
<circle cx="2200.6" cy="3637.7" r="11" fill="#000"/>
<circle cx="2226.2" cy="3604.5" r="11" fill="#000"/>
<circle cx="2279.6" cy="3669.6" r="11" fill="#000"/>
<circle cx="2365.5" cy="3609.7" r="11" fill="#000"/>
<circle cx="2445.5" cy="3659.6" r="11" fill="#000"/>
<text x="1822.5" y="3873.2" font-family='"Liberation Sans", sans-serif' font-size="39" font-weight="normal" text-anchor="start" letter-spacing="0.21">Hours post-challenge</text>
</g>
<text x="575.5" y="4119" font-family='"Liberation Serif", serif' font-size="87" text-anchor="middle">(<tspan font-weight="bold">A</tspan>)</text>
<text x="2027.5" y="4119" font-family='"Liberation Serif", serif' font-size="87" text-anchor="middle">(<tspan font-weight="bold">B</tspan>)</text>
</svg></body></html>
